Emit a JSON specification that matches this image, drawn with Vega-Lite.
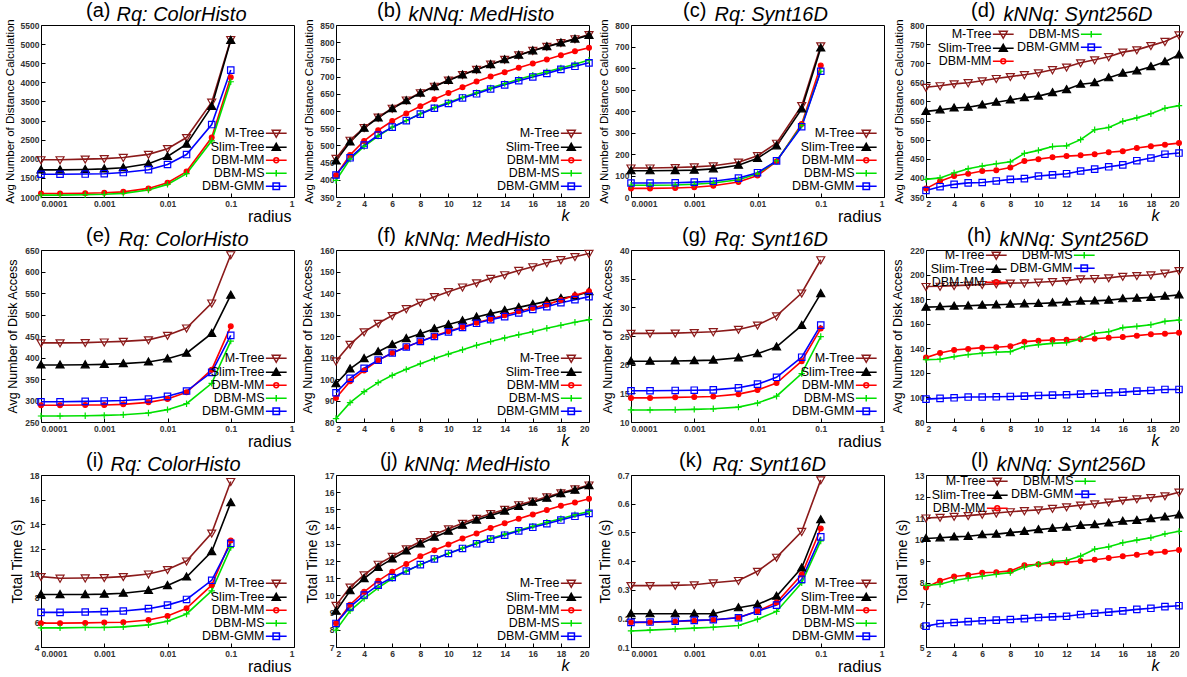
{
"$schema":"https://vega.github.io/schema/vega-lite/v6.json",
"padding":{"left":3,"top":0,"right":3,"bottom":3},
"config":{
 "view":{"stroke":"#000000","strokeWidth":1},
 "font":"Liberation Sans",
 "axis":{"grid":false,"domain":false,"labelFont":"Liberation Sans","labelFontSize":8.5,"labelFontWeight":"bold","labelColor":"#333333","tickColor":"#000000","tickSize":-4,"labelPadding":6,"titleFont":"Liberation Sans","titleFontWeight":"normal","titleColor":"#000000"},
 "legend":{"labelFont":"Liberation Sans","labelFontSize":12.5,"labelColor":"#000000","labelAlign":"right","labelOffset":-18,"symbolSize":64,"symbolStrokeWidth":1.5,"symbolOpacity":1,"rowPadding":-1,"padding":0,"offset":4},
 "title":{"font":"Liberation Sans","fontSize":20,"fontWeight":"normal","anchor":"start","frame":"group","baseline":"alphabetic","offset":-17,"color":"#000000"}
},
"datasets":{
"a":[
{"x":0.0001,"s":"M-Tree","v":1975},{"x":0.0002,"s":"M-Tree","v":1975},{"x":0.0005,"s":"M-Tree","v":1990},{"x":0.001,"s":"M-Tree","v":2005},{"x":0.002,"s":"M-Tree","v":2035},{"x":0.005,"s":"M-Tree","v":2115},{"x":0.01,"s":"M-Tree","v":2265},{"x":0.02,"s":"M-Tree","v":2555},{"x":0.05,"s":"M-Tree","v":3480},{"x":0.1,"s":"M-Tree","v":5120},
{"x":0.0001,"s":"Slim-Tree","v":1710},{"x":0.0002,"s":"Slim-Tree","v":1710},{"x":0.0005,"s":"Slim-Tree","v":1720},{"x":0.001,"s":"Slim-Tree","v":1735},{"x":0.002,"s":"Slim-Tree","v":1765},{"x":0.005,"s":"Slim-Tree","v":1870},{"x":0.01,"s":"Slim-Tree","v":2060},{"x":0.02,"s":"Slim-Tree","v":2380},{"x":0.05,"s":"Slim-Tree","v":3370},{"x":0.1,"s":"Slim-Tree","v":5100},
{"x":0.0001,"s":"DBM-MM","v":1090},{"x":0.0002,"s":"DBM-MM","v":1090},{"x":0.0005,"s":"DBM-MM","v":1100},{"x":0.001,"s":"DBM-MM","v":1110},{"x":0.002,"s":"DBM-MM","v":1135},{"x":0.005,"s":"DBM-MM","v":1225},{"x":0.01,"s":"DBM-MM","v":1375},{"x":0.02,"s":"DBM-MM","v":1665},{"x":0.05,"s":"DBM-MM","v":2555},{"x":0.1,"s":"DBM-MM","v":4130},
{"x":0.0001,"s":"DBM-MS","v":1050},{"x":0.0002,"s":"DBM-MS","v":1050},{"x":0.0005,"s":"DBM-MS","v":1060},{"x":0.001,"s":"DBM-MS","v":1070},{"x":0.002,"s":"DBM-MS","v":1095},{"x":0.005,"s":"DBM-MS","v":1185},{"x":0.01,"s":"DBM-MS","v":1330},{"x":0.02,"s":"DBM-MS","v":1610},{"x":0.05,"s":"DBM-MS","v":2470},{"x":0.1,"s":"DBM-MS","v":4015},
{"x":0.0001,"s":"DBM-GMM","v":1595},{"x":0.0002,"s":"DBM-GMM","v":1595},{"x":0.0005,"s":"DBM-GMM","v":1600},{"x":0.001,"s":"DBM-GMM","v":1610},{"x":0.002,"s":"DBM-GMM","v":1640},{"x":0.005,"s":"DBM-GMM","v":1715},{"x":0.01,"s":"DBM-GMM","v":1850},{"x":0.02,"s":"DBM-GMM","v":2110},{"x":0.05,"s":"DBM-GMM","v":2895},{"x":0.1,"s":"DBM-GMM","v":4320}
],
"b":[
{"x":2,"s":"M-Tree","v":462},{"x":3,"s":"M-Tree","v":515},{"x":4,"s":"M-Tree","v":552},{"x":5,"s":"M-Tree","v":582},{"x":6,"s":"M-Tree","v":608},{"x":7,"s":"M-Tree","v":632},{"x":8,"s":"M-Tree","v":653},{"x":9,"s":"M-Tree","v":672},{"x":10,"s":"M-Tree","v":690},{"x":11,"s":"M-Tree","v":706},{"x":12,"s":"M-Tree","v":721},{"x":13,"s":"M-Tree","v":736},{"x":14,"s":"M-Tree","v":750},{"x":15,"s":"M-Tree","v":763},{"x":16,"s":"M-Tree","v":776},{"x":17,"s":"M-Tree","v":788},{"x":18,"s":"M-Tree","v":799},{"x":19,"s":"M-Tree","v":810},{"x":20,"s":"M-Tree","v":822},
{"x":2,"s":"Slim-Tree","v":455},{"x":3,"s":"Slim-Tree","v":510},{"x":4,"s":"Slim-Tree","v":550},{"x":5,"s":"Slim-Tree","v":580},{"x":6,"s":"Slim-Tree","v":607},{"x":7,"s":"Slim-Tree","v":630},{"x":8,"s":"Slim-Tree","v":652},{"x":9,"s":"Slim-Tree","v":671},{"x":10,"s":"Slim-Tree","v":689},{"x":11,"s":"Slim-Tree","v":705},{"x":12,"s":"Slim-Tree","v":720},{"x":13,"s":"Slim-Tree","v":735},{"x":14,"s":"Slim-Tree","v":749},{"x":15,"s":"Slim-Tree","v":762},{"x":16,"s":"Slim-Tree","v":775},{"x":17,"s":"Slim-Tree","v":787},{"x":18,"s":"Slim-Tree","v":798},{"x":19,"s":"Slim-Tree","v":809},{"x":20,"s":"Slim-Tree","v":820},
{"x":2,"s":"DBM-MM","v":413},{"x":3,"s":"DBM-MM","v":472},{"x":4,"s":"DBM-MM","v":513},{"x":5,"s":"DBM-MM","v":544},{"x":6,"s":"DBM-MM","v":571},{"x":7,"s":"DBM-MM","v":593},{"x":8,"s":"DBM-MM","v":614},{"x":9,"s":"DBM-MM","v":634},{"x":10,"s":"DBM-MM","v":652},{"x":11,"s":"DBM-MM","v":669},{"x":12,"s":"DBM-MM","v":686},{"x":13,"s":"DBM-MM","v":700},{"x":14,"s":"DBM-MM","v":713},{"x":15,"s":"DBM-MM","v":726},{"x":16,"s":"DBM-MM","v":738},{"x":17,"s":"DBM-MM","v":750},{"x":18,"s":"DBM-MM","v":762},{"x":19,"s":"DBM-MM","v":774},{"x":20,"s":"DBM-MM","v":784},
{"x":2,"s":"DBM-MS","v":398},{"x":3,"s":"DBM-MS","v":460},{"x":4,"s":"DBM-MS","v":497},{"x":5,"s":"DBM-MS","v":527},{"x":6,"s":"DBM-MS","v":553},{"x":7,"s":"DBM-MS","v":572},{"x":8,"s":"DBM-MS","v":592},{"x":9,"s":"DBM-MS","v":610},{"x":10,"s":"DBM-MS","v":625},{"x":11,"s":"DBM-MS","v":640},{"x":12,"s":"DBM-MS","v":653},{"x":13,"s":"DBM-MS","v":667},{"x":14,"s":"DBM-MS","v":680},{"x":15,"s":"DBM-MS","v":692},{"x":16,"s":"DBM-MS","v":704},{"x":17,"s":"DBM-MS","v":714},{"x":18,"s":"DBM-MS","v":725},{"x":19,"s":"DBM-MS","v":736},{"x":20,"s":"DBM-MS","v":748},
{"x":2,"s":"DBM-GMM","v":414},{"x":3,"s":"DBM-GMM","v":464},{"x":4,"s":"DBM-GMM","v":501},{"x":5,"s":"DBM-GMM","v":530},{"x":6,"s":"DBM-GMM","v":553},{"x":7,"s":"DBM-GMM","v":572},{"x":8,"s":"DBM-GMM","v":591},{"x":9,"s":"DBM-GMM","v":608},{"x":10,"s":"DBM-GMM","v":622},{"x":11,"s":"DBM-GMM","v":638},{"x":12,"s":"DBM-GMM","v":650},{"x":13,"s":"DBM-GMM","v":664},{"x":14,"s":"DBM-GMM","v":676},{"x":15,"s":"DBM-GMM","v":688},{"x":16,"s":"DBM-GMM","v":699},{"x":17,"s":"DBM-GMM","v":709},{"x":18,"s":"DBM-GMM","v":721},{"x":19,"s":"DBM-GMM","v":730},{"x":20,"s":"DBM-GMM","v":740}
],
"c":[
{"x":0.0001,"s":"M-Tree","v":135},{"x":0.0002,"s":"M-Tree","v":135},{"x":0.0005,"s":"M-Tree","v":137},{"x":0.001,"s":"M-Tree","v":140},{"x":0.002,"s":"M-Tree","v":145},{"x":0.005,"s":"M-Tree","v":162},{"x":0.01,"s":"M-Tree","v":192},{"x":0.02,"s":"M-Tree","v":250},{"x":0.05,"s":"M-Tree","v":425},{"x":0.1,"s":"M-Tree","v":703},
{"x":0.0001,"s":"Slim-Tree","v":122},{"x":0.0002,"s":"Slim-Tree","v":122},{"x":0.0005,"s":"Slim-Tree","v":123},{"x":0.001,"s":"Slim-Tree","v":125},{"x":0.002,"s":"Slim-Tree","v":131},{"x":0.005,"s":"Slim-Tree","v":148},{"x":0.01,"s":"Slim-Tree","v":180},{"x":0.02,"s":"Slim-Tree","v":238},{"x":0.05,"s":"Slim-Tree","v":410},{"x":0.1,"s":"Slim-Tree","v":693},
{"x":0.0001,"s":"DBM-MM","v":40},{"x":0.0002,"s":"DBM-MM","v":40},{"x":0.0005,"s":"DBM-MM","v":42},{"x":0.001,"s":"DBM-MM","v":45},{"x":0.002,"s":"DBM-MM","v":52},{"x":0.005,"s":"DBM-MM","v":70},{"x":0.01,"s":"DBM-MM","v":100},{"x":0.02,"s":"DBM-MM","v":165},{"x":0.05,"s":"DBM-MM","v":340},{"x":0.1,"s":"DBM-MM","v":612},
{"x":0.0001,"s":"DBM-MS","v":55},{"x":0.0002,"s":"DBM-MS","v":55},{"x":0.0005,"s":"DBM-MS","v":56},{"x":0.001,"s":"DBM-MS","v":59},{"x":0.002,"s":"DBM-MS","v":65},{"x":0.005,"s":"DBM-MS","v":80},{"x":0.01,"s":"DBM-MS","v":108},{"x":0.02,"s":"DBM-MS","v":168},{"x":0.05,"s":"DBM-MS","v":333},{"x":0.1,"s":"DBM-MS","v":585},
{"x":0.0001,"s":"DBM-GMM","v":65},{"x":0.0002,"s":"DBM-GMM","v":65},{"x":0.0005,"s":"DBM-GMM","v":66},{"x":0.001,"s":"DBM-GMM","v":69},{"x":0.002,"s":"DBM-GMM","v":73},{"x":0.005,"s":"DBM-GMM","v":88},{"x":0.01,"s":"DBM-GMM","v":113},{"x":0.02,"s":"DBM-GMM","v":168},{"x":0.05,"s":"DBM-GMM","v":327},{"x":0.1,"s":"DBM-GMM","v":585}
],
"d":[
{"x":2,"s":"M-Tree","v":637},{"x":3,"s":"M-Tree","v":641},{"x":4,"s":"M-Tree","v":646},{"x":5,"s":"M-Tree","v":649},{"x":6,"s":"M-Tree","v":654},{"x":7,"s":"M-Tree","v":660},{"x":8,"s":"M-Tree","v":665},{"x":9,"s":"M-Tree","v":670},{"x":10,"s":"M-Tree","v":675},{"x":11,"s":"M-Tree","v":683},{"x":12,"s":"M-Tree","v":690},{"x":13,"s":"M-Tree","v":701},{"x":14,"s":"M-Tree","v":709},{"x":15,"s":"M-Tree","v":717},{"x":16,"s":"M-Tree","v":729},{"x":17,"s":"M-Tree","v":735},{"x":18,"s":"M-Tree","v":746},{"x":19,"s":"M-Tree","v":757},{"x":20,"s":"M-Tree","v":774},
{"x":2,"s":"Slim-Tree","v":574},{"x":3,"s":"Slim-Tree","v":578},{"x":4,"s":"Slim-Tree","v":583},{"x":5,"s":"Slim-Tree","v":585},{"x":6,"s":"Slim-Tree","v":591},{"x":7,"s":"Slim-Tree","v":598},{"x":8,"s":"Slim-Tree","v":604},{"x":9,"s":"Slim-Tree","v":610},{"x":10,"s":"Slim-Tree","v":614},{"x":11,"s":"Slim-Tree","v":623},{"x":12,"s":"Slim-Tree","v":631},{"x":13,"s":"Slim-Tree","v":645},{"x":14,"s":"Slim-Tree","v":649},{"x":15,"s":"Slim-Tree","v":662},{"x":16,"s":"Slim-Tree","v":674},{"x":17,"s":"Slim-Tree","v":680},{"x":18,"s":"Slim-Tree","v":691},{"x":19,"s":"Slim-Tree","v":704},{"x":20,"s":"Slim-Tree","v":722},
{"x":2,"s":"DBM-MM","v":372},{"x":3,"s":"DBM-MM","v":391},{"x":4,"s":"DBM-MM","v":405},{"x":5,"s":"DBM-MM","v":411},{"x":6,"s":"DBM-MM","v":418},{"x":7,"s":"DBM-MM","v":420},{"x":8,"s":"DBM-MM","v":427},{"x":9,"s":"DBM-MM","v":444},{"x":10,"s":"DBM-MM","v":449},{"x":11,"s":"DBM-MM","v":454},{"x":12,"s":"DBM-MM","v":457},{"x":13,"s":"DBM-MM","v":459},{"x":14,"s":"DBM-MM","v":462},{"x":15,"s":"DBM-MM","v":467},{"x":16,"s":"DBM-MM","v":470},{"x":17,"s":"DBM-MM","v":478},{"x":18,"s":"DBM-MM","v":483},{"x":19,"s":"DBM-MM","v":487},{"x":20,"s":"DBM-MM","v":491},
{"x":2,"s":"DBM-MS","v":396},{"x":3,"s":"DBM-MS","v":400},{"x":4,"s":"DBM-MS","v":413},{"x":5,"s":"DBM-MS","v":424},{"x":6,"s":"DBM-MS","v":431},{"x":7,"s":"DBM-MS","v":437},{"x":8,"s":"DBM-MS","v":442},{"x":9,"s":"DBM-MS","v":464},{"x":10,"s":"DBM-MS","v":472},{"x":11,"s":"DBM-MS","v":482},{"x":12,"s":"DBM-MS","v":484},{"x":13,"s":"DBM-MS","v":500},{"x":14,"s":"DBM-MS","v":526},{"x":15,"s":"DBM-MS","v":532},{"x":16,"s":"DBM-MS","v":548},{"x":17,"s":"DBM-MS","v":557},{"x":18,"s":"DBM-MS","v":568},{"x":19,"s":"DBM-MS","v":582},{"x":20,"s":"DBM-MS","v":589},
{"x":2,"s":"DBM-GMM","v":367},{"x":3,"s":"DBM-GMM","v":377},{"x":4,"s":"DBM-GMM","v":383},{"x":5,"s":"DBM-GMM","v":387},{"x":6,"s":"DBM-GMM","v":388},{"x":7,"s":"DBM-GMM","v":392},{"x":8,"s":"DBM-GMM","v":396},{"x":9,"s":"DBM-GMM","v":398},{"x":10,"s":"DBM-GMM","v":405},{"x":11,"s":"DBM-GMM","v":408},{"x":12,"s":"DBM-GMM","v":411},{"x":13,"s":"DBM-GMM","v":418},{"x":14,"s":"DBM-GMM","v":423},{"x":15,"s":"DBM-GMM","v":429},{"x":16,"s":"DBM-GMM","v":434},{"x":17,"s":"DBM-GMM","v":445},{"x":18,"s":"DBM-GMM","v":452},{"x":19,"s":"DBM-GMM","v":462},{"x":20,"s":"DBM-GMM","v":465}
],
"e":[
{"x":0.0001,"s":"M-Tree","v":434},{"x":0.0002,"s":"M-Tree","v":434},{"x":0.0005,"s":"M-Tree","v":434.5},{"x":0.001,"s":"M-Tree","v":436},{"x":0.002,"s":"M-Tree","v":437.6},{"x":0.005,"s":"M-Tree","v":441},{"x":0.01,"s":"M-Tree","v":451.5},{"x":0.02,"s":"M-Tree","v":468.6},{"x":0.05,"s":"M-Tree","v":526.7},{"x":0.1,"s":"M-Tree","v":639},
{"x":0.0001,"s":"Slim-Tree","v":382.6},{"x":0.0002,"s":"Slim-Tree","v":382.6},{"x":0.0005,"s":"Slim-Tree","v":383},{"x":0.001,"s":"Slim-Tree","v":384},{"x":0.002,"s":"Slim-Tree","v":385.7},{"x":0.005,"s":"Slim-Tree","v":389.5},{"x":0.01,"s":"Slim-Tree","v":397},{"x":0.02,"s":"Slim-Tree","v":410},{"x":0.05,"s":"Slim-Tree","v":456},{"x":0.1,"s":"Slim-Tree","v":545},
{"x":0.0001,"s":"DBM-MM","v":288.8},{"x":0.0002,"s":"DBM-MM","v":288.8},{"x":0.0005,"s":"DBM-MM","v":289.5},{"x":0.001,"s":"DBM-MM","v":289.5},{"x":0.002,"s":"DBM-MM","v":291},{"x":0.005,"s":"DBM-MM","v":295.7},{"x":0.01,"s":"DBM-MM","v":303.5},{"x":0.02,"s":"DBM-MM","v":319},{"x":0.05,"s":"DBM-MM","v":371.7},{"x":0.1,"s":"DBM-MM","v":472.5},
{"x":0.0001,"s":"DBM-MS","v":264},{"x":0.0002,"s":"DBM-MS","v":264},{"x":0.0005,"s":"DBM-MS","v":264.7},{"x":0.001,"s":"DBM-MS","v":265.5},{"x":0.002,"s":"DBM-MS","v":267},{"x":0.005,"s":"DBM-MS","v":271},{"x":0.01,"s":"DBM-MS","v":278.7},{"x":0.02,"s":"DBM-MS","v":292.6},{"x":0.05,"s":"DBM-MS","v":340},{"x":0.1,"s":"DBM-MS","v":438},
{"x":0.0001,"s":"DBM-GMM","v":297},{"x":0.0002,"s":"DBM-GMM","v":297},{"x":0.0005,"s":"DBM-GMM","v":298},{"x":0.001,"s":"DBM-GMM","v":299},{"x":0.002,"s":"DBM-GMM","v":300},{"x":0.005,"s":"DBM-GMM","v":303.5},{"x":0.01,"s":"DBM-GMM","v":309.7},{"x":0.02,"s":"DBM-GMM","v":322},{"x":0.05,"s":"DBM-GMM","v":365.5},{"x":0.1,"s":"DBM-GMM","v":451.5}
],
"f":[
{"x":2,"s":"M-Tree","v":108.4},{"x":3,"s":"M-Tree","v":116.1},{"x":4,"s":"M-Tree","v":121.9},{"x":5,"s":"M-Tree","v":125.9},{"x":6,"s":"M-Tree","v":129.5},{"x":7,"s":"M-Tree","v":132.7},{"x":8,"s":"M-Tree","v":135.7},{"x":9,"s":"M-Tree","v":138.3},{"x":10,"s":"M-Tree","v":140.6},{"x":11,"s":"M-Tree","v":142.8},{"x":12,"s":"M-Tree","v":144.7},{"x":13,"s":"M-Tree","v":146.8},{"x":14,"s":"M-Tree","v":148.5},{"x":15,"s":"M-Tree","v":150.5},{"x":16,"s":"M-Tree","v":152.2},{"x":17,"s":"M-Tree","v":154.1},{"x":18,"s":"M-Tree","v":155.5},{"x":19,"s":"M-Tree","v":156.9},{"x":20,"s":"M-Tree","v":158.4},
{"x":2,"s":"Slim-Tree","v":97.8},{"x":3,"s":"Slim-Tree","v":104.7},{"x":4,"s":"Slim-Tree","v":109.5},{"x":5,"s":"Slim-Tree","v":112.7},{"x":6,"s":"Slim-Tree","v":116},{"x":7,"s":"Slim-Tree","v":118.8},{"x":8,"s":"Slim-Tree","v":121.1},{"x":9,"s":"Slim-Tree","v":123.4},{"x":10,"s":"Slim-Tree","v":125.3},{"x":11,"s":"Slim-Tree","v":127.1},{"x":12,"s":"Slim-Tree","v":128.8},{"x":13,"s":"Slim-Tree","v":130.4},{"x":14,"s":"Slim-Tree","v":131.9},{"x":15,"s":"Slim-Tree","v":133.3},{"x":16,"s":"Slim-Tree","v":134.7},{"x":17,"s":"Slim-Tree","v":136.1},{"x":18,"s":"Slim-Tree","v":137.5},{"x":19,"s":"Slim-Tree","v":138.6},{"x":20,"s":"Slim-Tree","v":140.6},
{"x":2,"s":"DBM-MM","v":91.2},{"x":3,"s":"DBM-MM","v":98.9},{"x":4,"s":"DBM-MM","v":104},{"x":5,"s":"DBM-MM","v":108.7},{"x":6,"s":"DBM-MM","v":112.1},{"x":7,"s":"DBM-MM","v":114.9},{"x":8,"s":"DBM-MM","v":117.5},{"x":9,"s":"DBM-MM","v":120},{"x":10,"s":"DBM-MM","v":122.2},{"x":11,"s":"DBM-MM","v":124.2},{"x":12,"s":"DBM-MM","v":126.2},{"x":13,"s":"DBM-MM","v":127.9},{"x":14,"s":"DBM-MM","v":129.6},{"x":15,"s":"DBM-MM","v":131.5},{"x":16,"s":"DBM-MM","v":133},{"x":17,"s":"DBM-MM","v":134.6},{"x":18,"s":"DBM-MM","v":136.7},{"x":19,"s":"DBM-MM","v":139},{"x":20,"s":"DBM-MM","v":140.8},
{"x":2,"s":"DBM-MS","v":81.6},{"x":3,"s":"DBM-MS","v":89},{"x":4,"s":"DBM-MS","v":94.1},{"x":5,"s":"DBM-MS","v":98.3},{"x":6,"s":"DBM-MS","v":101.7},{"x":7,"s":"DBM-MS","v":104.5},{"x":8,"s":"DBM-MS","v":107.1},{"x":9,"s":"DBM-MS","v":109.5},{"x":10,"s":"DBM-MS","v":111.6},{"x":11,"s":"DBM-MS","v":113.6},{"x":12,"s":"DBM-MS","v":115.7},{"x":13,"s":"DBM-MS","v":117.4},{"x":14,"s":"DBM-MS","v":119.1},{"x":15,"s":"DBM-MS","v":120.6},{"x":16,"s":"DBM-MS","v":122},{"x":17,"s":"DBM-MS","v":123.6},{"x":18,"s":"DBM-MS","v":125},{"x":19,"s":"DBM-MS","v":126.4},{"x":20,"s":"DBM-MS","v":127.6},
{"x":2,"s":"DBM-GMM","v":93.6},{"x":3,"s":"DBM-GMM","v":100.3},{"x":4,"s":"DBM-GMM","v":105},{"x":5,"s":"DBM-GMM","v":108.8},{"x":6,"s":"DBM-GMM","v":112.1},{"x":7,"s":"DBM-GMM","v":114.9},{"x":8,"s":"DBM-GMM","v":117.5},{"x":9,"s":"DBM-GMM","v":119.8},{"x":10,"s":"DBM-GMM","v":121.9},{"x":11,"s":"DBM-GMM","v":124},{"x":12,"s":"DBM-GMM","v":125.9},{"x":13,"s":"DBM-GMM","v":127.6},{"x":14,"s":"DBM-GMM","v":129},{"x":15,"s":"DBM-GMM","v":130.7},{"x":16,"s":"DBM-GMM","v":132.4},{"x":17,"s":"DBM-GMM","v":133.6},{"x":18,"s":"DBM-GMM","v":135.5},{"x":19,"s":"DBM-GMM","v":136.9},{"x":20,"s":"DBM-GMM","v":138.3}
],
"g":[
{"x":0.0001,"s":"M-Tree","v":25.46},{"x":0.0002,"s":"M-Tree","v":25.46},{"x":0.0005,"s":"M-Tree","v":25.5},{"x":0.001,"s":"M-Tree","v":25.6},{"x":0.002,"s":"M-Tree","v":25.75},{"x":0.005,"s":"M-Tree","v":26.15},{"x":0.01,"s":"M-Tree","v":26.9},{"x":0.02,"s":"M-Tree","v":28.5},{"x":0.05,"s":"M-Tree","v":32.5},{"x":0.1,"s":"M-Tree","v":38.3},
{"x":0.0001,"s":"Slim-Tree","v":20.6},{"x":0.0002,"s":"Slim-Tree","v":20.6},{"x":0.0005,"s":"Slim-Tree","v":20.65},{"x":0.001,"s":"Slim-Tree","v":20.7},{"x":0.002,"s":"Slim-Tree","v":20.8},{"x":0.005,"s":"Slim-Tree","v":21.2},{"x":0.01,"s":"Slim-Tree","v":21.9},{"x":0.02,"s":"Slim-Tree","v":23.1},{"x":0.05,"s":"Slim-Tree","v":26.85},{"x":0.1,"s":"Slim-Tree","v":32.4},
{"x":0.0001,"s":"DBM-MM","v":14.2},{"x":0.0002,"s":"DBM-MM","v":14.2},{"x":0.0005,"s":"DBM-MM","v":14.3},{"x":0.001,"s":"DBM-MM","v":14.35},{"x":0.002,"s":"DBM-MM","v":14.46},{"x":0.005,"s":"DBM-MM","v":14.86},{"x":0.01,"s":"DBM-MM","v":15.56},{"x":0.02,"s":"DBM-MM","v":16.8},{"x":0.05,"s":"DBM-MM","v":20.6},{"x":0.1,"s":"DBM-MM","v":26.3},
{"x":0.0001,"s":"DBM-MS","v":12.1},{"x":0.0002,"s":"DBM-MS","v":12.1},{"x":0.0005,"s":"DBM-MS","v":12.14},{"x":0.001,"s":"DBM-MS","v":12.2},{"x":0.002,"s":"DBM-MS","v":12.3},{"x":0.005,"s":"DBM-MS","v":12.6},{"x":0.01,"s":"DBM-MS","v":13.3},{"x":0.02,"s":"DBM-MS","v":14.5},{"x":0.05,"s":"DBM-MS","v":18.45},{"x":0.1,"s":"DBM-MS","v":24.9},
{"x":0.0001,"s":"DBM-GMM","v":15.45},{"x":0.0002,"s":"DBM-GMM","v":15.45},{"x":0.0005,"s":"DBM-GMM","v":15.5},{"x":0.001,"s":"DBM-GMM","v":15.55},{"x":0.002,"s":"DBM-GMM","v":15.6},{"x":0.005,"s":"DBM-GMM","v":15.96},{"x":0.01,"s":"DBM-GMM","v":16.6},{"x":0.02,"s":"DBM-GMM","v":17.8},{"x":0.05,"s":"DBM-GMM","v":21.3},{"x":0.1,"s":"DBM-GMM","v":26.9}
],
"h":[
{"x":2,"s":"M-Tree","v":190.3},{"x":3,"s":"M-Tree","v":190.5},{"x":4,"s":"M-Tree","v":191},{"x":5,"s":"M-Tree","v":191.4},{"x":6,"s":"M-Tree","v":191.9},{"x":7,"s":"M-Tree","v":192.4},{"x":8,"s":"M-Tree","v":193},{"x":9,"s":"M-Tree","v":193.2},{"x":10,"s":"M-Tree","v":193.8},{"x":11,"s":"M-Tree","v":194.3},{"x":12,"s":"M-Tree","v":195.1},{"x":13,"s":"M-Tree","v":196.5},{"x":14,"s":"M-Tree","v":196.8},{"x":15,"s":"M-Tree","v":197.3},{"x":16,"s":"M-Tree","v":198.6},{"x":17,"s":"M-Tree","v":199.2},{"x":18,"s":"M-Tree","v":199.7},{"x":19,"s":"M-Tree","v":201.1},{"x":20,"s":"M-Tree","v":203.2},
{"x":2,"s":"Slim-Tree","v":173.5},{"x":3,"s":"Slim-Tree","v":173.8},{"x":4,"s":"Slim-Tree","v":174.3},{"x":5,"s":"Slim-Tree","v":174.6},{"x":6,"s":"Slim-Tree","v":175.1},{"x":7,"s":"Slim-Tree","v":175.4},{"x":8,"s":"Slim-Tree","v":175.9},{"x":9,"s":"Slim-Tree","v":176.2},{"x":10,"s":"Slim-Tree","v":176.5},{"x":11,"s":"Slim-Tree","v":177},{"x":12,"s":"Slim-Tree","v":177.6},{"x":13,"s":"Slim-Tree","v":178.4},{"x":14,"s":"Slim-Tree","v":178.6},{"x":15,"s":"Slim-Tree","v":179.2},{"x":16,"s":"Slim-Tree","v":180.3},{"x":17,"s":"Slim-Tree","v":180.8},{"x":18,"s":"Slim-Tree","v":181.4},{"x":19,"s":"Slim-Tree","v":182.4},{"x":20,"s":"Slim-Tree","v":183.5},
{"x":2,"s":"DBM-MM","v":132.4},{"x":3,"s":"DBM-MM","v":136.2},{"x":4,"s":"DBM-MM","v":138.6},{"x":5,"s":"DBM-MM","v":139.5},{"x":6,"s":"DBM-MM","v":140.5},{"x":7,"s":"DBM-MM","v":140.8},{"x":8,"s":"DBM-MM","v":141.6},{"x":9,"s":"DBM-MM","v":145.4},{"x":10,"s":"DBM-MM","v":146.2},{"x":11,"s":"DBM-MM","v":146.8},{"x":12,"s":"DBM-MM","v":147},{"x":13,"s":"DBM-MM","v":147.3},{"x":14,"s":"DBM-MM","v":147.8},{"x":15,"s":"DBM-MM","v":148.6},{"x":16,"s":"DBM-MM","v":149.2},{"x":17,"s":"DBM-MM","v":150.3},{"x":18,"s":"DBM-MM","v":151.4},{"x":19,"s":"DBM-MM","v":151.9},{"x":20,"s":"DBM-MM","v":152.7},
{"x":2,"s":"DBM-MS","v":130.8},{"x":3,"s":"DBM-MS","v":131.1},{"x":4,"s":"DBM-MS","v":133.2},{"x":5,"s":"DBM-MS","v":134.9},{"x":6,"s":"DBM-MS","v":136},{"x":7,"s":"DBM-MS","v":136.8},{"x":8,"s":"DBM-MS","v":137.3},{"x":9,"s":"DBM-MS","v":141.4},{"x":10,"s":"DBM-MS","v":143},{"x":11,"s":"DBM-MS","v":144},{"x":12,"s":"DBM-MS","v":144.6},{"x":13,"s":"DBM-MS","v":147.6},{"x":14,"s":"DBM-MS","v":152.2},{"x":15,"s":"DBM-MS","v":153.5},{"x":16,"s":"DBM-MS","v":156.8},{"x":17,"s":"DBM-MS","v":157.8},{"x":18,"s":"DBM-MS","v":159.2},{"x":19,"s":"DBM-MS","v":161.9},{"x":20,"s":"DBM-MS","v":163},
{"x":2,"s":"DBM-GMM","v":98.6},{"x":3,"s":"DBM-GMM","v":99.2},{"x":4,"s":"DBM-GMM","v":99.7},{"x":5,"s":"DBM-GMM","v":100.3},{"x":6,"s":"DBM-GMM","v":100.3},{"x":7,"s":"DBM-GMM","v":100.5},{"x":8,"s":"DBM-GMM","v":100.8},{"x":9,"s":"DBM-GMM","v":101.1},{"x":10,"s":"DBM-GMM","v":101.6},{"x":11,"s":"DBM-GMM","v":101.9},{"x":12,"s":"DBM-GMM","v":102.2},{"x":13,"s":"DBM-GMM","v":102.7},{"x":14,"s":"DBM-GMM","v":103.2},{"x":15,"s":"DBM-GMM","v":103.8},{"x":16,"s":"DBM-GMM","v":104.3},{"x":17,"s":"DBM-GMM","v":105.1},{"x":18,"s":"DBM-GMM","v":105.7},{"x":19,"s":"DBM-GMM","v":106.5},{"x":20,"s":"DBM-GMM","v":106.5}
],
"i":[
{"x":0.0001,"s":"M-Tree","v":9.73},{"x":0.0002,"s":"M-Tree","v":9.6},{"x":0.0005,"s":"M-Tree","v":9.62},{"x":0.001,"s":"M-Tree","v":9.65},{"x":0.002,"s":"M-Tree","v":9.73},{"x":0.005,"s":"M-Tree","v":9.94},{"x":0.01,"s":"M-Tree","v":10.3},{"x":0.02,"s":"M-Tree","v":11},{"x":0.05,"s":"M-Tree","v":13.27},{"x":0.1,"s":"M-Tree","v":17.47},
{"x":0.0001,"s":"Slim-Tree","v":8.27},{"x":0.0002,"s":"Slim-Tree","v":8.27},{"x":0.0005,"s":"Slim-Tree","v":8.27},{"x":0.001,"s":"Slim-Tree","v":8.3},{"x":0.002,"s":"Slim-Tree","v":8.38},{"x":0.005,"s":"Slim-Tree","v":8.6},{"x":0.01,"s":"Slim-Tree","v":9},{"x":0.02,"s":"Slim-Tree","v":9.7},{"x":0.05,"s":"Slim-Tree","v":11.77},{"x":0.1,"s":"Slim-Tree","v":15.75},
{"x":0.0001,"s":"DBM-MM","v":5.94},{"x":0.0002,"s":"DBM-MM","v":5.94},{"x":0.0005,"s":"DBM-MM","v":5.96},{"x":0.001,"s":"DBM-MM","v":5.99},{"x":0.002,"s":"DBM-MM","v":6.02},{"x":0.005,"s":"DBM-MM","v":6.2},{"x":0.01,"s":"DBM-MM","v":6.53},{"x":0.02,"s":"DBM-MM","v":7.15},{"x":0.05,"s":"DBM-MM","v":9.03},{"x":0.1,"s":"DBM-MM","v":12.66},
{"x":0.0001,"s":"DBM-MS","v":5.56},{"x":0.0002,"s":"DBM-MS","v":5.56},{"x":0.0005,"s":"DBM-MS","v":5.59},{"x":0.001,"s":"DBM-MS","v":5.59},{"x":0.002,"s":"DBM-MS","v":5.64},{"x":0.005,"s":"DBM-MS","v":5.8},{"x":0.01,"s":"DBM-MS","v":6.1},{"x":0.02,"s":"DBM-MS","v":6.69},{"x":0.05,"s":"DBM-MS","v":8.57},{"x":0.1,"s":"DBM-MS","v":12.09},
{"x":0.0001,"s":"DBM-GMM","v":6.82},{"x":0.0002,"s":"DBM-GMM","v":6.82},{"x":0.0005,"s":"DBM-GMM","v":6.85},{"x":0.001,"s":"DBM-GMM","v":6.88},{"x":0.002,"s":"DBM-GMM","v":6.93},{"x":0.005,"s":"DBM-GMM","v":7.12},{"x":0.01,"s":"DBM-GMM","v":7.41},{"x":0.02,"s":"DBM-GMM","v":7.87},{"x":0.05,"s":"DBM-GMM","v":9.43},{"x":0.1,"s":"DBM-GMM","v":12.44}
],
"j":[
{"x":2,"s":"M-Tree","v":9.42},{"x":3,"s":"M-Tree","v":10.48},{"x":4,"s":"M-Tree","v":11.19},{"x":5,"s":"M-Tree","v":11.81},{"x":6,"s":"M-Tree","v":12.27},{"x":7,"s":"M-Tree","v":12.71},{"x":8,"s":"M-Tree","v":13.13},{"x":9,"s":"M-Tree","v":13.54},{"x":10,"s":"M-Tree","v":13.87},{"x":11,"s":"M-Tree","v":14.19},{"x":12,"s":"M-Tree","v":14.48},{"x":13,"s":"M-Tree","v":14.75},{"x":14,"s":"M-Tree","v":15},{"x":15,"s":"M-Tree","v":15.27},{"x":16,"s":"M-Tree","v":15.48},{"x":17,"s":"M-Tree","v":15.73},{"x":18,"s":"M-Tree","v":15.96},{"x":19,"s":"M-Tree","v":16.19},{"x":20,"s":"M-Tree","v":16.42},
{"x":2,"s":"Slim-Tree","v":9.08},{"x":3,"s":"Slim-Tree","v":10.27},{"x":4,"s":"Slim-Tree","v":10.98},{"x":5,"s":"Slim-Tree","v":11.63},{"x":6,"s":"Slim-Tree","v":12.12},{"x":7,"s":"Slim-Tree","v":12.58},{"x":8,"s":"Slim-Tree","v":13},{"x":9,"s":"Slim-Tree","v":13.38},{"x":10,"s":"Slim-Tree","v":13.73},{"x":11,"s":"Slim-Tree","v":14.08},{"x":12,"s":"Slim-Tree","v":14.38},{"x":13,"s":"Slim-Tree","v":14.65},{"x":14,"s":"Slim-Tree","v":14.9},{"x":15,"s":"Slim-Tree","v":15.17},{"x":16,"s":"Slim-Tree","v":15.42},{"x":17,"s":"Slim-Tree","v":15.65},{"x":18,"s":"Slim-Tree","v":15.92},{"x":19,"s":"Slim-Tree","v":16.12},{"x":20,"s":"Slim-Tree","v":16.38},
{"x":2,"s":"DBM-MM","v":8.38},{"x":3,"s":"DBM-MM","v":9.46},{"x":4,"s":"DBM-MM","v":10.21},{"x":5,"s":"DBM-MM","v":10.85},{"x":6,"s":"DBM-MM","v":11.38},{"x":7,"s":"DBM-MM","v":11.83},{"x":8,"s":"DBM-MM","v":12.27},{"x":9,"s":"DBM-MM","v":12.63},{"x":10,"s":"DBM-MM","v":12.96},{"x":11,"s":"DBM-MM","v":13.31},{"x":12,"s":"DBM-MM","v":13.6},{"x":13,"s":"DBM-MM","v":13.92},{"x":14,"s":"DBM-MM","v":14.19},{"x":15,"s":"DBM-MM","v":14.46},{"x":16,"s":"DBM-MM","v":14.71},{"x":17,"s":"DBM-MM","v":14.96},{"x":18,"s":"DBM-MM","v":15.21},{"x":19,"s":"DBM-MM","v":15.4},{"x":20,"s":"DBM-MM","v":15.62},
{"x":2,"s":"DBM-MS","v":7.98},{"x":3,"s":"DBM-MS","v":9.1},{"x":4,"s":"DBM-MS","v":9.81},{"x":5,"s":"DBM-MS","v":10.44},{"x":6,"s":"DBM-MS","v":10.98},{"x":7,"s":"DBM-MS","v":11.4},{"x":8,"s":"DBM-MS","v":11.79},{"x":9,"s":"DBM-MS","v":12.13},{"x":10,"s":"DBM-MS","v":12.44},{"x":11,"s":"DBM-MS","v":12.75},{"x":12,"s":"DBM-MS","v":13.04},{"x":13,"s":"DBM-MS","v":13.31},{"x":14,"s":"DBM-MS","v":13.56},{"x":15,"s":"DBM-MS","v":13.79},{"x":16,"s":"DBM-MS","v":14.02},{"x":17,"s":"DBM-MS","v":14.25},{"x":18,"s":"DBM-MS","v":14.46},{"x":19,"s":"DBM-MS","v":14.69},{"x":20,"s":"DBM-MS","v":14.88},
{"x":2,"s":"DBM-GMM","v":8.37},{"x":3,"s":"DBM-GMM","v":9.33},{"x":4,"s":"DBM-GMM","v":10.02},{"x":5,"s":"DBM-GMM","v":10.6},{"x":6,"s":"DBM-GMM","v":11.04},{"x":7,"s":"DBM-GMM","v":11.42},{"x":8,"s":"DBM-GMM","v":11.79},{"x":9,"s":"DBM-GMM","v":12.12},{"x":10,"s":"DBM-GMM","v":12.44},{"x":11,"s":"DBM-GMM","v":12.73},{"x":12,"s":"DBM-GMM","v":13},{"x":13,"s":"DBM-GMM","v":13.27},{"x":14,"s":"DBM-GMM","v":13.5},{"x":15,"s":"DBM-GMM","v":13.75},{"x":16,"s":"DBM-GMM","v":13.96},{"x":17,"s":"DBM-GMM","v":14.17},{"x":18,"s":"DBM-GMM","v":14.38},{"x":19,"s":"DBM-GMM","v":14.6},{"x":20,"s":"DBM-GMM","v":14.77}
],
"k":[
{"x":0.0001,"s":"M-Tree","v":0.314},{"x":0.0002,"s":"M-Tree","v":0.314},{"x":0.0005,"s":"M-Tree","v":0.315},{"x":0.001,"s":"M-Tree","v":0.317},{"x":0.002,"s":"M-Tree","v":0.324},{"x":0.005,"s":"M-Tree","v":0.332},{"x":0.01,"s":"M-Tree","v":0.364},{"x":0.02,"s":"M-Tree","v":0.413},{"x":0.05,"s":"M-Tree","v":0.503},{"x":0.1,"s":"M-Tree","v":0.683},
{"x":0.0001,"s":"Slim-Tree","v":0.216},{"x":0.0002,"s":"Slim-Tree","v":0.216},{"x":0.0005,"s":"Slim-Tree","v":0.216},{"x":0.001,"s":"Slim-Tree","v":0.216},{"x":0.002,"s":"Slim-Tree","v":0.216},{"x":0.005,"s":"Slim-Tree","v":0.237},{"x":0.01,"s":"Slim-Tree","v":0.248},{"x":0.02,"s":"Slim-Tree","v":0.277},{"x":0.05,"s":"Slim-Tree","v":0.376},{"x":0.1,"s":"Slim-Tree","v":0.544},
{"x":0.0001,"s":"DBM-MM","v":0.186},{"x":0.0002,"s":"DBM-MM","v":0.186},{"x":0.0005,"s":"DBM-MM","v":0.189},{"x":0.001,"s":"DBM-MM","v":0.192},{"x":0.002,"s":"DBM-MM","v":0.194},{"x":0.005,"s":"DBM-MM","v":0.203},{"x":0.01,"s":"DBM-MM","v":0.225},{"x":0.02,"s":"DBM-MM","v":0.255},{"x":0.05,"s":"DBM-MM","v":0.353},{"x":0.1,"s":"DBM-MM","v":0.513},
{"x":0.0001,"s":"DBM-MS","v":0.156},{"x":0.0002,"s":"DBM-MS","v":0.159},{"x":0.0005,"s":"DBM-MS","v":0.163},{"x":0.001,"s":"DBM-MS","v":0.166},{"x":0.002,"s":"DBM-MS","v":0.169},{"x":0.005,"s":"DBM-MS","v":0.175},{"x":0.01,"s":"DBM-MS","v":0.197},{"x":0.02,"s":"DBM-MS","v":0.224},{"x":0.05,"s":"DBM-MS","v":0.324},{"x":0.1,"s":"DBM-MS","v":0.47},
{"x":0.0001,"s":"DBM-GMM","v":0.186},{"x":0.0002,"s":"DBM-GMM","v":0.187},{"x":0.0005,"s":"DBM-GMM","v":0.19},{"x":0.001,"s":"DBM-GMM","v":0.193},{"x":0.002,"s":"DBM-GMM","v":0.195},{"x":0.005,"s":"DBM-GMM","v":0.202},{"x":0.01,"s":"DBM-GMM","v":0.225},{"x":0.02,"s":"DBM-GMM","v":0.246},{"x":0.05,"s":"DBM-GMM","v":0.336},{"x":0.1,"s":"DBM-GMM","v":0.484}
],
"l":[
{"x":2,"s":"M-Tree","v":11},{"x":3,"s":"M-Tree","v":11.03},{"x":4,"s":"M-Tree","v":11.08},{"x":5,"s":"M-Tree","v":11.11},{"x":6,"s":"M-Tree","v":11.17},{"x":7,"s":"M-Tree","v":11.23},{"x":8,"s":"M-Tree","v":11.29},{"x":9,"s":"M-Tree","v":11.34},{"x":10,"s":"M-Tree","v":11.38},{"x":11,"s":"M-Tree","v":11.45},{"x":12,"s":"M-Tree","v":11.52},{"x":13,"s":"M-Tree","v":11.6},{"x":14,"s":"M-Tree","v":11.66},{"x":15,"s":"M-Tree","v":11.74},{"x":16,"s":"M-Tree","v":11.82},{"x":17,"s":"M-Tree","v":11.89},{"x":18,"s":"M-Tree","v":11.95},{"x":19,"s":"M-Tree","v":12.03},{"x":20,"s":"M-Tree","v":12.2},
{"x":2,"s":"Slim-Tree","v":10.05},{"x":3,"s":"Slim-Tree","v":10.08},{"x":4,"s":"Slim-Tree","v":10.12},{"x":5,"s":"Slim-Tree","v":10.15},{"x":6,"s":"Slim-Tree","v":10.22},{"x":7,"s":"Slim-Tree","v":10.25},{"x":8,"s":"Slim-Tree","v":10.32},{"x":9,"s":"Slim-Tree","v":10.38},{"x":10,"s":"Slim-Tree","v":10.46},{"x":11,"s":"Slim-Tree","v":10.52},{"x":12,"s":"Slim-Tree","v":10.57},{"x":13,"s":"Slim-Tree","v":10.66},{"x":14,"s":"Slim-Tree","v":10.69},{"x":15,"s":"Slim-Tree","v":10.77},{"x":16,"s":"Slim-Tree","v":10.85},{"x":17,"s":"Slim-Tree","v":10.89},{"x":18,"s":"Slim-Tree","v":10.97},{"x":19,"s":"Slim-Tree","v":11.05},{"x":20,"s":"Slim-Tree","v":11.15},
{"x":2,"s":"DBM-MM","v":7.77},{"x":3,"s":"DBM-MM","v":8.08},{"x":4,"s":"DBM-MM","v":8.28},{"x":5,"s":"DBM-MM","v":8.35},{"x":6,"s":"DBM-MM","v":8.45},{"x":7,"s":"DBM-MM","v":8.48},{"x":8,"s":"DBM-MM","v":8.54},{"x":9,"s":"DBM-MM","v":8.8},{"x":10,"s":"DBM-MM","v":8.85},{"x":11,"s":"DBM-MM","v":8.91},{"x":12,"s":"DBM-MM","v":8.94},{"x":13,"s":"DBM-MM","v":9},{"x":14,"s":"DBM-MM","v":9.06},{"x":15,"s":"DBM-MM","v":9.14},{"x":16,"s":"DBM-MM","v":9.22},{"x":17,"s":"DBM-MM","v":9.29},{"x":18,"s":"DBM-MM","v":9.38},{"x":19,"s":"DBM-MM","v":9.43},{"x":20,"s":"DBM-MM","v":9.51},
{"x":2,"s":"DBM-MS","v":7.86},{"x":3,"s":"DBM-MS","v":7.92},{"x":4,"s":"DBM-MS","v":8.09},{"x":5,"s":"DBM-MS","v":8.2},{"x":6,"s":"DBM-MS","v":8.29},{"x":7,"s":"DBM-MS","v":8.38},{"x":8,"s":"DBM-MS","v":8.46},{"x":9,"s":"DBM-MS","v":8.72},{"x":10,"s":"DBM-MS","v":8.85},{"x":11,"s":"DBM-MS","v":8.97},{"x":12,"s":"DBM-MS","v":9.02},{"x":13,"s":"DBM-MS","v":9.23},{"x":14,"s":"DBM-MS","v":9.55},{"x":15,"s":"DBM-MS","v":9.66},{"x":16,"s":"DBM-MS","v":9.85},{"x":17,"s":"DBM-MS","v":9.97},{"x":18,"s":"DBM-MS","v":10.08},{"x":19,"s":"DBM-MS","v":10.26},{"x":20,"s":"DBM-MS","v":10.38},
{"x":2,"s":"DBM-GMM","v":5.97},{"x":3,"s":"DBM-GMM","v":6.09},{"x":4,"s":"DBM-GMM","v":6.14},{"x":5,"s":"DBM-GMM","v":6.18},{"x":6,"s":"DBM-GMM","v":6.22},{"x":7,"s":"DBM-GMM","v":6.25},{"x":8,"s":"DBM-GMM","v":6.28},{"x":9,"s":"DBM-GMM","v":6.32},{"x":10,"s":"DBM-GMM","v":6.37},{"x":11,"s":"DBM-GMM","v":6.4},{"x":12,"s":"DBM-GMM","v":6.43},{"x":13,"s":"DBM-GMM","v":6.51},{"x":14,"s":"DBM-GMM","v":6.57},{"x":15,"s":"DBM-GMM","v":6.62},{"x":16,"s":"DBM-GMM","v":6.68},{"x":17,"s":"DBM-GMM","v":6.75},{"x":18,"s":"DBM-GMM","v":6.8},{"x":19,"s":"DBM-GMM","v":6.88},{"x":20,"s":"DBM-GMM","v":6.92}
]
},
"columns":4,
"spacing":{"row":53,"column":42},
"bounds":"flush",
"concat":[
{"data":{"name":"a"},"width":253,"height":172,"title":{"text":"(a)","dx":45},
 "encoding":{
  "x":{"field":"x","type":"quantitative","scale":{"type":"log","domain":[0.0001,1]},"axis":{"values":[0.0001,0.001,0.01,0.1,1],"format":"~r","title":"radius","titleFontSize":16,"titleAlign":"right","titleX":250,"titleY":24,"titleBaseline":"alphabetic"}},
  "y":{"field":"v","type":"quantitative","scale":{"domain":[1000,5500],"nice":false,"zero":false},"axis":{"values":[1000,1500,2000,2500,3000,3500,4000,4500,5000,5500],"format":"~r","title":"Avg Number of Distance Calculation","titleFontSize":11.5,"titlePadding":5}}},
 "layer":[
  {"mark":{"type":"line","strokeWidth":1.6},"encoding":{"stroke":{"field":"s","type":"nominal","scale":{"domain":["M-Tree","Slim-Tree","DBM-MM","DBM-MS","DBM-GMM"],"range":["#8b1a1a","#000000","#ff0000","#00e000","#0000ff"]},"legend":null}}},
  {"mark":{"type":"point","opacity":1,"size":64,"strokeWidth":1.2},"encoding":{
   "x":{"field":"x","type":"quantitative","scale":{"type":"log","domain":[0.0001,1]},"axis":{"orient":"top","labels":false,"ticks":false,"title":"Rq: ColorHisto","titleFontStyle":"italic","titleFontSize":20,"titleAlign":"left","titleX":75,"titleY":-5,"titleBaseline":"alphabetic"}},
   "stroke":{"field":"s","type":"nominal","scale":{"domain":["M-Tree","Slim-Tree","DBM-MM","DBM-MS","DBM-GMM"],"range":["#8b1a1a","#000000","#ff0000","#00e000","#0000ff"]},"legend":null},
   "fill":{"field":"s","type":"nominal","scale":{"domain":["M-Tree","Slim-Tree","DBM-MM","DBM-MS","DBM-GMM"],"range":["transparent","#000000","#ff0000","transparent","transparent"]},"legend":null},
   "shape":{"field":"s","type":"nominal","scale":{"domain":["M-Tree","Slim-Tree","DBM-MM","DBM-MS","DBM-GMM"],"range":["M-1,-0.75L1,-0.75L0,1Z","M0,-1L1,0.75L-1,0.75Z","M0.6,0A0.6,0.6,0,1,1,-0.6,0A0.6,0.6,0,1,1,0.6,0","M-0.8,0H0.8M0,-0.8V0.8","M-0.8,-0.8H0.8V0.8H-0.8Z"]},"legend":null}}},
  {"mark":{"type":"point","opacity":0,"size":64},"encoding":{
   "x":{"field":"x","type":"quantitative","scale":{"type":"log","domain":[0.0001,1]},"axis":null},
   "color":{"field":"s","type":"nominal","scale":{"domain":["M-Tree","Slim-Tree","DBM-MM","DBM-MS","DBM-GMM"],"range":["#8b1a1a","#000000","#ff0000","#00e000","#0000ff"]},"legend":{"title":null,"orient":"bottom-right"}},
   "shape":{"field":"s","type":"nominal","scale":{"domain":["M-Tree","Slim-Tree","DBM-MM","DBM-MS","DBM-GMM"],"range":["M-2.6,0H2.6M-1,-0.75L1,-0.75L0,1Z","M-2.6,0H2.6M0,-1L1,0.75L-1,0.75ZM0,-0.45L0.6,0.5L-0.6,0.5ZM0,0.05L0.25,0.45L-0.25,0.45Z","M-2.6,0H2.6M0.6,0A0.6,0.6,0,1,1,-0.6,0A0.6,0.6,0,1,1,0.6,0","M-2.6,0H2.6M0,-0.8V0.8","M-2.6,0H2.6M-0.8,-0.8H0.8V0.8H-0.8Z"]},"legend":{"title":null,"orient":"bottom-right"}}}}
 ],
 "resolve":{"axis":{"x":"independent"},"scale":{"shape":"independent","color":"independent"}}
},
{"data":{"name":"b"},"width":253,"height":172,"title":{"text":"(b)","dx":41},
 "encoding":{
  "x":{"field":"x","type":"quantitative","scale":{"domain":[2,20],"nice":false,"zero":false},"axis":{"values":[2,4,6,8,10,12,14,16,18,20],"format":"~r","title":"k","titleFontStyle":"italic","titleFontSize":16,"titleAlign":"right","titleX":233,"titleY":23,"titleBaseline":"alphabetic"}},
  "y":{"field":"v","type":"quantitative","scale":{"domain":[350,850],"nice":false,"zero":false},"axis":{"values":[350,400,450,500,550,600,650,700,750,800,850],"format":"~r","title":"Avg Number of Distance Calculation","titleFontSize":11.5,"titlePadding":5}}},
 "layer":[
  {"mark":{"type":"line","strokeWidth":1.6},"encoding":{"stroke":{"field":"s","type":"nominal","scale":{"domain":["M-Tree","Slim-Tree","DBM-MM","DBM-MS","DBM-GMM"],"range":["#8b1a1a","#000000","#ff0000","#00e000","#0000ff"]},"legend":null}}},
  {"mark":{"type":"point","opacity":1,"size":64,"strokeWidth":1.2},"encoding":{
   "x":{"field":"x","type":"quantitative","scale":{"domain":[2,20],"nice":false,"zero":false},"axis":{"orient":"top","labels":false,"ticks":false,"title":"kNNq: MedHisto","titleFontStyle":"italic","titleFontSize":20,"titleAlign":"left","titleX":72,"titleY":-5,"titleBaseline":"alphabetic"}},
   "stroke":{"field":"s","type":"nominal","scale":{"domain":["M-Tree","Slim-Tree","DBM-MM","DBM-MS","DBM-GMM"],"range":["#8b1a1a","#000000","#ff0000","#00e000","#0000ff"]},"legend":null},
   "fill":{"field":"s","type":"nominal","scale":{"domain":["M-Tree","Slim-Tree","DBM-MM","DBM-MS","DBM-GMM"],"range":["transparent","#000000","#ff0000","transparent","transparent"]},"legend":null},
   "shape":{"field":"s","type":"nominal","scale":{"domain":["M-Tree","Slim-Tree","DBM-MM","DBM-MS","DBM-GMM"],"range":["M-1,-0.75L1,-0.75L0,1Z","M0,-1L1,0.75L-1,0.75Z","M0.6,0A0.6,0.6,0,1,1,-0.6,0A0.6,0.6,0,1,1,0.6,0","M-0.8,0H0.8M0,-0.8V0.8","M-0.8,-0.8H0.8V0.8H-0.8Z"]},"legend":null}}},
  {"mark":{"type":"point","opacity":0,"size":64},"encoding":{
   "x":{"field":"x","type":"quantitative","scale":{"domain":[2,20],"nice":false,"zero":false},"axis":null},
   "color":{"field":"s","type":"nominal","scale":{"domain":["M-Tree","Slim-Tree","DBM-MM","DBM-MS","DBM-GMM"],"range":["#8b1a1a","#000000","#ff0000","#00e000","#0000ff"]},"legend":{"title":null,"orient":"bottom-right"}},
   "shape":{"field":"s","type":"nominal","scale":{"domain":["M-Tree","Slim-Tree","DBM-MM","DBM-MS","DBM-GMM"],"range":["M-2.6,0H2.6M-1,-0.75L1,-0.75L0,1Z","M-2.6,0H2.6M0,-1L1,0.75L-1,0.75ZM0,-0.45L0.6,0.5L-0.6,0.5ZM0,0.05L0.25,0.45L-0.25,0.45Z","M-2.6,0H2.6M0.6,0A0.6,0.6,0,1,1,-0.6,0A0.6,0.6,0,1,1,0.6,0","M-2.6,0H2.6M0,-0.8V0.8","M-2.6,0H2.6M-0.8,-0.8H0.8V0.8H-0.8Z"]},"legend":{"title":null,"orient":"bottom-right"}}}}
 ],
 "resolve":{"axis":{"x":"independent"},"scale":{"shape":"independent","color":"independent"}}
},
{"data":{"name":"c"},"width":253,"height":172,"title":{"text":"(c)","dx":52},
 "encoding":{
  "x":{"field":"x","type":"quantitative","scale":{"type":"log","domain":[0.0001,1]},"axis":{"values":[0.0001,0.001,0.01,0.1,1],"format":"~r","title":"radius","titleFontSize":16,"titleAlign":"right","titleX":250,"titleY":24,"titleBaseline":"alphabetic"}},
  "y":{"field":"v","type":"quantitative","scale":{"domain":[0,800],"nice":false,"zero":false},"axis":{"values":[0,100,200,300,400,500,600,700,800],"format":"~r","title":"Avg Number of Distance Calculation","titleFontSize":11.5,"titlePadding":5}}},
 "layer":[
  {"mark":{"type":"line","strokeWidth":1.6},"encoding":{"stroke":{"field":"s","type":"nominal","scale":{"domain":["M-Tree","Slim-Tree","DBM-MM","DBM-MS","DBM-GMM"],"range":["#8b1a1a","#000000","#ff0000","#00e000","#0000ff"]},"legend":null}}},
  {"mark":{"type":"point","opacity":1,"size":64,"strokeWidth":1.2},"encoding":{
   "x":{"field":"x","type":"quantitative","scale":{"type":"log","domain":[0.0001,1]},"axis":{"orient":"top","labels":false,"ticks":false,"title":"Rq: Synt16D","titleFontStyle":"italic","titleFontSize":20,"titleAlign":"left","titleX":83,"titleY":-5,"titleBaseline":"alphabetic"}},
   "stroke":{"field":"s","type":"nominal","scale":{"domain":["M-Tree","Slim-Tree","DBM-MM","DBM-MS","DBM-GMM"],"range":["#8b1a1a","#000000","#ff0000","#00e000","#0000ff"]},"legend":null},
   "fill":{"field":"s","type":"nominal","scale":{"domain":["M-Tree","Slim-Tree","DBM-MM","DBM-MS","DBM-GMM"],"range":["transparent","#000000","#ff0000","transparent","transparent"]},"legend":null},
   "shape":{"field":"s","type":"nominal","scale":{"domain":["M-Tree","Slim-Tree","DBM-MM","DBM-MS","DBM-GMM"],"range":["M-1,-0.75L1,-0.75L0,1Z","M0,-1L1,0.75L-1,0.75Z","M0.6,0A0.6,0.6,0,1,1,-0.6,0A0.6,0.6,0,1,1,0.6,0","M-0.8,0H0.8M0,-0.8V0.8","M-0.8,-0.8H0.8V0.8H-0.8Z"]},"legend":null}}},
  {"mark":{"type":"point","opacity":0,"size":64},"encoding":{
   "x":{"field":"x","type":"quantitative","scale":{"type":"log","domain":[0.0001,1]},"axis":null},
   "color":{"field":"s","type":"nominal","scale":{"domain":["M-Tree","Slim-Tree","DBM-MM","DBM-MS","DBM-GMM"],"range":["#8b1a1a","#000000","#ff0000","#00e000","#0000ff"]},"legend":{"title":null,"orient":"bottom-right"}},
   "shape":{"field":"s","type":"nominal","scale":{"domain":["M-Tree","Slim-Tree","DBM-MM","DBM-MS","DBM-GMM"],"range":["M-2.6,0H2.6M-1,-0.75L1,-0.75L0,1Z","M-2.6,0H2.6M0,-1L1,0.75L-1,0.75ZM0,-0.45L0.6,0.5L-0.6,0.5ZM0,0.05L0.25,0.45L-0.25,0.45Z","M-2.6,0H2.6M0.6,0A0.6,0.6,0,1,1,-0.6,0A0.6,0.6,0,1,1,0.6,0","M-2.6,0H2.6M0,-0.8V0.8","M-2.6,0H2.6M-0.8,-0.8H0.8V0.8H-0.8Z"]},"legend":{"title":null,"orient":"bottom-right"}}}}
 ],
 "resolve":{"axis":{"x":"independent"},"scale":{"shape":"independent","color":"independent"}}
},
{"data":{"name":"d"},"width":253,"height":172,"title":{"text":"(d)","dx":45},
 "encoding":{
  "x":{"field":"x","type":"quantitative","scale":{"domain":[2,20],"nice":false,"zero":false},"axis":{"values":[2,4,6,8,10,12,14,16,18,20],"format":"~r","title":"k","titleFontStyle":"italic","titleFontSize":16,"titleAlign":"right","titleX":233,"titleY":23,"titleBaseline":"alphabetic"}},
  "y":{"field":"v","type":"quantitative","scale":{"domain":[350,800],"nice":false,"zero":false},"axis":{"values":[350,400,450,500,550,600,650,700,750,800],"format":"~r","title":"Avg Number of Distance Calculation","titleFontSize":11.5,"titlePadding":5}}},
 "layer":[
  {"mark":{"type":"line","strokeWidth":1.6},"encoding":{"stroke":{"field":"s","type":"nominal","scale":{"domain":["M-Tree","Slim-Tree","DBM-MM","DBM-MS","DBM-GMM"],"range":["#8b1a1a","#000000","#ff0000","#00e000","#0000ff"]},"legend":null}}},
  {"mark":{"type":"point","opacity":1,"size":64,"strokeWidth":1.2},"encoding":{
   "x":{"field":"x","type":"quantitative","scale":{"domain":[2,20],"nice":false,"zero":false},"axis":{"orient":"top","labels":false,"ticks":false,"title":"kNNq: Synt256D","titleFontStyle":"italic","titleFontSize":20,"titleAlign":"left","titleX":77,"titleY":-5,"titleBaseline":"alphabetic"}},
   "stroke":{"field":"s","type":"nominal","scale":{"domain":["M-Tree","Slim-Tree","DBM-MM","DBM-MS","DBM-GMM"],"range":["#8b1a1a","#000000","#ff0000","#00e000","#0000ff"]},"legend":null},
   "fill":{"field":"s","type":"nominal","scale":{"domain":["M-Tree","Slim-Tree","DBM-MM","DBM-MS","DBM-GMM"],"range":["transparent","#000000","#ff0000","transparent","transparent"]},"legend":null},
   "shape":{"field":"s","type":"nominal","scale":{"domain":["M-Tree","Slim-Tree","DBM-MM","DBM-MS","DBM-GMM"],"range":["M-1,-0.75L1,-0.75L0,1Z","M0,-1L1,0.75L-1,0.75Z","M0.6,0A0.6,0.6,0,1,1,-0.6,0A0.6,0.6,0,1,1,0.6,0","M-0.8,0H0.8M0,-0.8V0.8","M-0.8,-0.8H0.8V0.8H-0.8Z"]},"legend":null}}},
  {"transform":[{"filter":{"field":"s","oneOf":["M-Tree","Slim-Tree","DBM-MM"]}}],
   "mark":{"type":"point","opacity":0,"size":64},"encoding":{
   "x":{"field":"x","type":"quantitative","scale":{"domain":[2,20],"nice":false,"zero":false},"axis":null},
   "color":{"field":"s","type":"nominal","scale":{"domain":["M-Tree","Slim-Tree","DBM-MM"],"range":["#8b1a1a","#000000","#ff0000"]},"legend":{"title":null,"orient":"none","legendX":71,"legendY":3}},
   "shape":{"field":"s","type":"nominal","scale":{"domain":["M-Tree","Slim-Tree","DBM-MM"],"range":["M-2.6,0H2.6M-1,-0.75L1,-0.75L0,1Z","M-2.6,0H2.6M0,-1L1,0.75L-1,0.75ZM0,-0.45L0.6,0.5L-0.6,0.5ZM0,0.05L0.25,0.45L-0.25,0.45Z","M-2.6,0H2.6M0.6,0A0.6,0.6,0,1,1,-0.6,0A0.6,0.6,0,1,1,0.6,0"]},"legend":{"title":null,"orient":"none","legendX":71,"legendY":3}}}},
  {"transform":[{"filter":{"field":"s","oneOf":["DBM-MS","DBM-GMM"]}}],
   "mark":{"type":"point","opacity":0,"size":64},"encoding":{
   "x":{"field":"x","type":"quantitative","scale":{"domain":[2,20],"nice":false,"zero":false},"axis":null},
   "color":{"field":"s","type":"nominal","scale":{"domain":["DBM-MS","DBM-GMM"],"range":["#00e000","#0000ff"]},"legend":{"title":null,"orient":"none","legendX":159,"legendY":3}},
   "shape":{"field":"s","type":"nominal","scale":{"domain":["DBM-MS","DBM-GMM"],"range":["M-2.6,0H2.6M0,-0.8V0.8","M-2.6,0H2.6M-0.8,-0.8H0.8V0.8H-0.8Z"]},"legend":{"title":null,"orient":"none","legendX":159,"legendY":3}}}}
 ],
 "resolve":{"axis":{"x":"independent"},"scale":{"shape":"independent","color":"independent"}}
},
{"data":{"name":"e"},"width":253,"height":172,"title":{"text":"(e)","dx":45},
 "encoding":{
  "x":{"field":"x","type":"quantitative","scale":{"type":"log","domain":[0.0001,1]},"axis":{"values":[0.0001,0.001,0.01,0.1,1],"format":"~r","title":"radius","titleFontSize":16,"titleAlign":"right","titleX":250,"titleY":24,"titleBaseline":"alphabetic"}},
  "y":{"field":"v","type":"quantitative","scale":{"domain":[250,650],"nice":false,"zero":false},"axis":{"values":[250,300,350,400,450,500,550,600,650],"format":"~r","title":"Avg Number of Disk Access","titleFontSize":12.5,"titlePadding":5}}},
 "layer":[
  {"mark":{"type":"line","strokeWidth":1.6},"encoding":{"stroke":{"field":"s","type":"nominal","scale":{"domain":["M-Tree","Slim-Tree","DBM-MM","DBM-MS","DBM-GMM"],"range":["#8b1a1a","#000000","#ff0000","#00e000","#0000ff"]},"legend":null}}},
  {"mark":{"type":"point","opacity":1,"size":64,"strokeWidth":1.2},"encoding":{
   "x":{"field":"x","type":"quantitative","scale":{"type":"log","domain":[0.0001,1]},"axis":{"orient":"top","labels":false,"ticks":false,"title":"Rq: ColorHisto","titleFontStyle":"italic","titleFontSize":20,"titleAlign":"left","titleX":77,"titleY":-5,"titleBaseline":"alphabetic"}},
   "stroke":{"field":"s","type":"nominal","scale":{"domain":["M-Tree","Slim-Tree","DBM-MM","DBM-MS","DBM-GMM"],"range":["#8b1a1a","#000000","#ff0000","#00e000","#0000ff"]},"legend":null},
   "fill":{"field":"s","type":"nominal","scale":{"domain":["M-Tree","Slim-Tree","DBM-MM","DBM-MS","DBM-GMM"],"range":["transparent","#000000","#ff0000","transparent","transparent"]},"legend":null},
   "shape":{"field":"s","type":"nominal","scale":{"domain":["M-Tree","Slim-Tree","DBM-MM","DBM-MS","DBM-GMM"],"range":["M-1,-0.75L1,-0.75L0,1Z","M0,-1L1,0.75L-1,0.75Z","M0.6,0A0.6,0.6,0,1,1,-0.6,0A0.6,0.6,0,1,1,0.6,0","M-0.8,0H0.8M0,-0.8V0.8","M-0.8,-0.8H0.8V0.8H-0.8Z"]},"legend":null}}},
  {"mark":{"type":"point","opacity":0,"size":64},"encoding":{
   "x":{"field":"x","type":"quantitative","scale":{"type":"log","domain":[0.0001,1]},"axis":null},
   "color":{"field":"s","type":"nominal","scale":{"domain":["M-Tree","Slim-Tree","DBM-MM","DBM-MS","DBM-GMM"],"range":["#8b1a1a","#000000","#ff0000","#00e000","#0000ff"]},"legend":{"title":null,"orient":"bottom-right"}},
   "shape":{"field":"s","type":"nominal","scale":{"domain":["M-Tree","Slim-Tree","DBM-MM","DBM-MS","DBM-GMM"],"range":["M-2.6,0H2.6M-1,-0.75L1,-0.75L0,1Z","M-2.6,0H2.6M0,-1L1,0.75L-1,0.75ZM0,-0.45L0.6,0.5L-0.6,0.5ZM0,0.05L0.25,0.45L-0.25,0.45Z","M-2.6,0H2.6M0.6,0A0.6,0.6,0,1,1,-0.6,0A0.6,0.6,0,1,1,0.6,0","M-2.6,0H2.6M0,-0.8V0.8","M-2.6,0H2.6M-0.8,-0.8H0.8V0.8H-0.8Z"]},"legend":{"title":null,"orient":"bottom-right"}}}}
 ],
 "resolve":{"axis":{"x":"independent"},"scale":{"shape":"independent","color":"independent"}}
},
{"data":{"name":"f"},"width":253,"height":172,"title":{"text":"(f)","dx":41},
 "encoding":{
  "x":{"field":"x","type":"quantitative","scale":{"domain":[2,20],"nice":false,"zero":false},"axis":{"values":[2,4,6,8,10,12,14,16,18,20],"format":"~r","title":"k","titleFontStyle":"italic","titleFontSize":16,"titleAlign":"right","titleX":233,"titleY":23,"titleBaseline":"alphabetic"}},
  "y":{"field":"v","type":"quantitative","scale":{"domain":[80,160],"nice":false,"zero":false},"axis":{"values":[80,90,100,110,120,130,140,150,160],"format":"~r","title":"Avg Number of Disk Access","titleFontSize":12.5,"titlePadding":5}}},
 "layer":[
  {"mark":{"type":"line","strokeWidth":1.6},"encoding":{"stroke":{"field":"s","type":"nominal","scale":{"domain":["M-Tree","Slim-Tree","DBM-MM","DBM-MS","DBM-GMM"],"range":["#8b1a1a","#000000","#ff0000","#00e000","#0000ff"]},"legend":null}}},
  {"mark":{"type":"point","opacity":1,"size":64,"strokeWidth":1.2},"encoding":{
   "x":{"field":"x","type":"quantitative","scale":{"domain":[2,20],"nice":false,"zero":false},"axis":{"orient":"top","labels":false,"ticks":false,"title":"kNNq: MedHisto","titleFontStyle":"italic","titleFontSize":20,"titleAlign":"left","titleX":68,"titleY":-5,"titleBaseline":"alphabetic"}},
   "stroke":{"field":"s","type":"nominal","scale":{"domain":["M-Tree","Slim-Tree","DBM-MM","DBM-MS","DBM-GMM"],"range":["#8b1a1a","#000000","#ff0000","#00e000","#0000ff"]},"legend":null},
   "fill":{"field":"s","type":"nominal","scale":{"domain":["M-Tree","Slim-Tree","DBM-MM","DBM-MS","DBM-GMM"],"range":["transparent","#000000","#ff0000","transparent","transparent"]},"legend":null},
   "shape":{"field":"s","type":"nominal","scale":{"domain":["M-Tree","Slim-Tree","DBM-MM","DBM-MS","DBM-GMM"],"range":["M-1,-0.75L1,-0.75L0,1Z","M0,-1L1,0.75L-1,0.75Z","M0.6,0A0.6,0.6,0,1,1,-0.6,0A0.6,0.6,0,1,1,0.6,0","M-0.8,0H0.8M0,-0.8V0.8","M-0.8,-0.8H0.8V0.8H-0.8Z"]},"legend":null}}},
  {"mark":{"type":"point","opacity":0,"size":64},"encoding":{
   "x":{"field":"x","type":"quantitative","scale":{"domain":[2,20],"nice":false,"zero":false},"axis":null},
   "color":{"field":"s","type":"nominal","scale":{"domain":["M-Tree","Slim-Tree","DBM-MM","DBM-MS","DBM-GMM"],"range":["#8b1a1a","#000000","#ff0000","#00e000","#0000ff"]},"legend":{"title":null,"orient":"bottom-right"}},
   "shape":{"field":"s","type":"nominal","scale":{"domain":["M-Tree","Slim-Tree","DBM-MM","DBM-MS","DBM-GMM"],"range":["M-2.6,0H2.6M-1,-0.75L1,-0.75L0,1Z","M-2.6,0H2.6M0,-1L1,0.75L-1,0.75ZM0,-0.45L0.6,0.5L-0.6,0.5ZM0,0.05L0.25,0.45L-0.25,0.45Z","M-2.6,0H2.6M0.6,0A0.6,0.6,0,1,1,-0.6,0A0.6,0.6,0,1,1,0.6,0","M-2.6,0H2.6M0,-0.8V0.8","M-2.6,0H2.6M-0.8,-0.8H0.8V0.8H-0.8Z"]},"legend":{"title":null,"orient":"bottom-right"}}}}
 ],
 "resolve":{"axis":{"x":"independent"},"scale":{"shape":"independent","color":"independent"}}
},
{"data":{"name":"g"},"width":253,"height":172,"title":{"text":"(g)","dx":51},
 "encoding":{
  "x":{"field":"x","type":"quantitative","scale":{"type":"log","domain":[0.0001,1]},"axis":{"values":[0.0001,0.001,0.01,0.1,1],"format":"~r","title":"radius","titleFontSize":16,"titleAlign":"right","titleX":250,"titleY":24,"titleBaseline":"alphabetic"}},
  "y":{"field":"v","type":"quantitative","scale":{"domain":[10,40],"nice":false,"zero":false},"axis":{"values":[10,15,20,25,30,35,40],"format":"~r","title":"Avg Number of Disk Access","titleFontSize":12.5,"titlePadding":5}}},
 "layer":[
  {"mark":{"type":"line","strokeWidth":1.6},"encoding":{"stroke":{"field":"s","type":"nominal","scale":{"domain":["M-Tree","Slim-Tree","DBM-MM","DBM-MS","DBM-GMM"],"range":["#8b1a1a","#000000","#ff0000","#00e000","#0000ff"]},"legend":null}}},
  {"mark":{"type":"point","opacity":1,"size":64,"strokeWidth":1.2},"encoding":{
   "x":{"field":"x","type":"quantitative","scale":{"type":"log","domain":[0.0001,1]},"axis":{"orient":"top","labels":false,"ticks":false,"title":"Rq: Synt16D","titleFontStyle":"italic","titleFontSize":20,"titleAlign":"left","titleX":83,"titleY":-5,"titleBaseline":"alphabetic"}},
   "stroke":{"field":"s","type":"nominal","scale":{"domain":["M-Tree","Slim-Tree","DBM-MM","DBM-MS","DBM-GMM"],"range":["#8b1a1a","#000000","#ff0000","#00e000","#0000ff"]},"legend":null},
   "fill":{"field":"s","type":"nominal","scale":{"domain":["M-Tree","Slim-Tree","DBM-MM","DBM-MS","DBM-GMM"],"range":["transparent","#000000","#ff0000","transparent","transparent"]},"legend":null},
   "shape":{"field":"s","type":"nominal","scale":{"domain":["M-Tree","Slim-Tree","DBM-MM","DBM-MS","DBM-GMM"],"range":["M-1,-0.75L1,-0.75L0,1Z","M0,-1L1,0.75L-1,0.75Z","M0.6,0A0.6,0.6,0,1,1,-0.6,0A0.6,0.6,0,1,1,0.6,0","M-0.8,0H0.8M0,-0.8V0.8","M-0.8,-0.8H0.8V0.8H-0.8Z"]},"legend":null}}},
  {"mark":{"type":"point","opacity":0,"size":64},"encoding":{
   "x":{"field":"x","type":"quantitative","scale":{"type":"log","domain":[0.0001,1]},"axis":null},
   "color":{"field":"s","type":"nominal","scale":{"domain":["M-Tree","Slim-Tree","DBM-MM","DBM-MS","DBM-GMM"],"range":["#8b1a1a","#000000","#ff0000","#00e000","#0000ff"]},"legend":{"title":null,"orient":"bottom-right"}},
   "shape":{"field":"s","type":"nominal","scale":{"domain":["M-Tree","Slim-Tree","DBM-MM","DBM-MS","DBM-GMM"],"range":["M-2.6,0H2.6M-1,-0.75L1,-0.75L0,1Z","M-2.6,0H2.6M0,-1L1,0.75L-1,0.75ZM0,-0.45L0.6,0.5L-0.6,0.5ZM0,0.05L0.25,0.45L-0.25,0.45Z","M-2.6,0H2.6M0.6,0A0.6,0.6,0,1,1,-0.6,0A0.6,0.6,0,1,1,0.6,0","M-2.6,0H2.6M0,-0.8V0.8","M-2.6,0H2.6M-0.8,-0.8H0.8V0.8H-0.8Z"]},"legend":{"title":null,"orient":"bottom-right"}}}}
 ],
 "resolve":{"axis":{"x":"independent"},"scale":{"shape":"independent","color":"independent"}}
},
{"data":{"name":"h"},"width":253,"height":172,"title":{"text":"(h)","dx":41},
 "encoding":{
  "x":{"field":"x","type":"quantitative","scale":{"domain":[2,20],"nice":false,"zero":false},"axis":{"values":[2,4,6,8,10,12,14,16,18,20],"format":"~r","title":"k","titleFontStyle":"italic","titleFontSize":16,"titleAlign":"right","titleX":233,"titleY":23,"titleBaseline":"alphabetic"}},
  "y":{"field":"v","type":"quantitative","scale":{"domain":[80,220],"nice":false,"zero":false},"axis":{"values":[80,100,120,140,160,180,200,220],"format":"~r","title":"Avg Number of Disk Access","titleFontSize":12.5,"titlePadding":5}}},
 "layer":[
  {"mark":{"type":"line","strokeWidth":1.6},"encoding":{"stroke":{"field":"s","type":"nominal","scale":{"domain":["M-Tree","Slim-Tree","DBM-MM","DBM-MS","DBM-GMM"],"range":["#8b1a1a","#000000","#ff0000","#00e000","#0000ff"]},"legend":null}}},
  {"mark":{"type":"point","opacity":1,"size":64,"strokeWidth":1.2},"encoding":{
   "x":{"field":"x","type":"quantitative","scale":{"domain":[2,20],"nice":false,"zero":false},"axis":{"orient":"top","labels":false,"ticks":false,"title":"kNNq: Synt256D","titleFontStyle":"italic","titleFontSize":20,"titleAlign":"left","titleX":73,"titleY":-5,"titleBaseline":"alphabetic"}},
   "stroke":{"field":"s","type":"nominal","scale":{"domain":["M-Tree","Slim-Tree","DBM-MM","DBM-MS","DBM-GMM"],"range":["#8b1a1a","#000000","#ff0000","#00e000","#0000ff"]},"legend":null},
   "fill":{"field":"s","type":"nominal","scale":{"domain":["M-Tree","Slim-Tree","DBM-MM","DBM-MS","DBM-GMM"],"range":["transparent","#000000","#ff0000","transparent","transparent"]},"legend":null},
   "shape":{"field":"s","type":"nominal","scale":{"domain":["M-Tree","Slim-Tree","DBM-MM","DBM-MS","DBM-GMM"],"range":["M-1,-0.75L1,-0.75L0,1Z","M0,-1L1,0.75L-1,0.75Z","M0.6,0A0.6,0.6,0,1,1,-0.6,0A0.6,0.6,0,1,1,0.6,0","M-0.8,0H0.8M0,-0.8V0.8","M-0.8,-0.8H0.8V0.8H-0.8Z"]},"legend":null}}},
  {"transform":[{"filter":{"field":"s","oneOf":["M-Tree","Slim-Tree","DBM-MM"]}}],
   "mark":{"type":"point","opacity":0,"size":64},"encoding":{
   "x":{"field":"x","type":"quantitative","scale":{"domain":[2,20],"nice":false,"zero":false},"axis":null},
   "color":{"field":"s","type":"nominal","scale":{"domain":["M-Tree","Slim-Tree","DBM-MM"],"range":["#8b1a1a","#000000","#ff0000"]},"legend":{"title":null,"orient":"none","legendX":64,"legendY":-1}},
   "shape":{"field":"s","type":"nominal","scale":{"domain":["M-Tree","Slim-Tree","DBM-MM"],"range":["M-2.6,0H2.6M-1,-0.75L1,-0.75L0,1Z","M-2.6,0H2.6M0,-1L1,0.75L-1,0.75ZM0,-0.45L0.6,0.5L-0.6,0.5ZM0,0.05L0.25,0.45L-0.25,0.45Z","M-2.6,0H2.6M0.6,0A0.6,0.6,0,1,1,-0.6,0A0.6,0.6,0,1,1,0.6,0"]},"legend":{"title":null,"orient":"none","legendX":64,"legendY":-1}}}},
  {"transform":[{"filter":{"field":"s","oneOf":["DBM-MS","DBM-GMM"]}}],
   "mark":{"type":"point","opacity":0,"size":64},"encoding":{
   "x":{"field":"x","type":"quantitative","scale":{"domain":[2,20],"nice":false,"zero":false},"axis":null},
   "color":{"field":"s","type":"nominal","scale":{"domain":["DBM-MS","DBM-GMM"],"range":["#00e000","#0000ff"]},"legend":{"title":null,"orient":"none","legendX":152,"legendY":-1}},
   "shape":{"field":"s","type":"nominal","scale":{"domain":["DBM-MS","DBM-GMM"],"range":["M-2.6,0H2.6M0,-0.8V0.8","M-2.6,0H2.6M-0.8,-0.8H0.8V0.8H-0.8Z"]},"legend":{"title":null,"orient":"none","legendX":152,"legendY":-1}}}}
 ],
 "resolve":{"axis":{"x":"independent"},"scale":{"shape":"independent","color":"independent"}}
},
{"data":{"name":"i"},"width":253,"height":172,"title":{"text":"(i)","dx":45},
 "encoding":{
  "x":{"field":"x","type":"quantitative","scale":{"type":"log","domain":[0.0001,1]},"axis":{"values":[0.0001,0.001,0.01,0.1,1],"format":"~r","title":"radius","titleFontSize":16,"titleAlign":"right","titleX":250,"titleY":24,"titleBaseline":"alphabetic"}},
  "y":{"field":"v","type":"quantitative","scale":{"domain":[4,18],"nice":false,"zero":false},"axis":{"values":[4,6,8,10,12,14,16,18],"format":"~r","title":"Total Time (s)","titleFontSize":14,"titlePadding":5}}},
 "layer":[
  {"mark":{"type":"line","strokeWidth":1.6},"encoding":{"stroke":{"field":"s","type":"nominal","scale":{"domain":["M-Tree","Slim-Tree","DBM-MM","DBM-MS","DBM-GMM"],"range":["#8b1a1a","#000000","#ff0000","#00e000","#0000ff"]},"legend":null}}},
  {"mark":{"type":"point","opacity":1,"size":64,"strokeWidth":1.2},"encoding":{
   "x":{"field":"x","type":"quantitative","scale":{"type":"log","domain":[0.0001,1]},"axis":{"orient":"top","labels":false,"ticks":false,"title":"Rq: ColorHisto","titleFontStyle":"italic","titleFontSize":20,"titleAlign":"left","titleX":69,"titleY":-5,"titleBaseline":"alphabetic"}},
   "stroke":{"field":"s","type":"nominal","scale":{"domain":["M-Tree","Slim-Tree","DBM-MM","DBM-MS","DBM-GMM"],"range":["#8b1a1a","#000000","#ff0000","#00e000","#0000ff"]},"legend":null},
   "fill":{"field":"s","type":"nominal","scale":{"domain":["M-Tree","Slim-Tree","DBM-MM","DBM-MS","DBM-GMM"],"range":["transparent","#000000","#ff0000","transparent","transparent"]},"legend":null},
   "shape":{"field":"s","type":"nominal","scale":{"domain":["M-Tree","Slim-Tree","DBM-MM","DBM-MS","DBM-GMM"],"range":["M-1,-0.75L1,-0.75L0,1Z","M0,-1L1,0.75L-1,0.75Z","M0.6,0A0.6,0.6,0,1,1,-0.6,0A0.6,0.6,0,1,1,0.6,0","M-0.8,0H0.8M0,-0.8V0.8","M-0.8,-0.8H0.8V0.8H-0.8Z"]},"legend":null}}},
  {"mark":{"type":"point","opacity":0,"size":64},"encoding":{
   "x":{"field":"x","type":"quantitative","scale":{"type":"log","domain":[0.0001,1]},"axis":null},
   "color":{"field":"s","type":"nominal","scale":{"domain":["M-Tree","Slim-Tree","DBM-MM","DBM-MS","DBM-GMM"],"range":["#8b1a1a","#000000","#ff0000","#00e000","#0000ff"]},"legend":{"title":null,"orient":"bottom-right"}},
   "shape":{"field":"s","type":"nominal","scale":{"domain":["M-Tree","Slim-Tree","DBM-MM","DBM-MS","DBM-GMM"],"range":["M-2.6,0H2.6M-1,-0.75L1,-0.75L0,1Z","M-2.6,0H2.6M0,-1L1,0.75L-1,0.75ZM0,-0.45L0.6,0.5L-0.6,0.5ZM0,0.05L0.25,0.45L-0.25,0.45Z","M-2.6,0H2.6M0.6,0A0.6,0.6,0,1,1,-0.6,0A0.6,0.6,0,1,1,0.6,0","M-2.6,0H2.6M0,-0.8V0.8","M-2.6,0H2.6M-0.8,-0.8H0.8V0.8H-0.8Z"]},"legend":{"title":null,"orient":"bottom-right"}}}}
 ],
 "resolve":{"axis":{"x":"independent"},"scale":{"shape":"independent","color":"independent"}}
},
{"data":{"name":"j"},"width":253,"height":172,"title":{"text":"(j)","dx":44},
 "encoding":{
  "x":{"field":"x","type":"quantitative","scale":{"domain":[2,20],"nice":false,"zero":false},"axis":{"values":[2,4,6,8,10,12,14,16,18,20],"format":"~r","title":"k","titleFontStyle":"italic","titleFontSize":16,"titleAlign":"right","titleX":233,"titleY":23,"titleBaseline":"alphabetic"}},
  "y":{"field":"v","type":"quantitative","scale":{"domain":[7,17],"nice":false,"zero":false},"axis":{"values":[7,8,9,10,11,12,13,14,15,16,17],"format":"~r","title":"Total Time (s)","titleFontSize":14,"titlePadding":5}}},
 "layer":[
  {"mark":{"type":"line","strokeWidth":1.6},"encoding":{"stroke":{"field":"s","type":"nominal","scale":{"domain":["M-Tree","Slim-Tree","DBM-MM","DBM-MS","DBM-GMM"],"range":["#8b1a1a","#000000","#ff0000","#00e000","#0000ff"]},"legend":null}}},
  {"mark":{"type":"point","opacity":1,"size":64,"strokeWidth":1.2},"encoding":{
   "x":{"field":"x","type":"quantitative","scale":{"domain":[2,20],"nice":false,"zero":false},"axis":{"orient":"top","labels":false,"ticks":false,"title":"kNNq: MedHisto","titleFontStyle":"italic","titleFontSize":20,"titleAlign":"left","titleX":68,"titleY":-5,"titleBaseline":"alphabetic"}},
   "stroke":{"field":"s","type":"nominal","scale":{"domain":["M-Tree","Slim-Tree","DBM-MM","DBM-MS","DBM-GMM"],"range":["#8b1a1a","#000000","#ff0000","#00e000","#0000ff"]},"legend":null},
   "fill":{"field":"s","type":"nominal","scale":{"domain":["M-Tree","Slim-Tree","DBM-MM","DBM-MS","DBM-GMM"],"range":["transparent","#000000","#ff0000","transparent","transparent"]},"legend":null},
   "shape":{"field":"s","type":"nominal","scale":{"domain":["M-Tree","Slim-Tree","DBM-MM","DBM-MS","DBM-GMM"],"range":["M-1,-0.75L1,-0.75L0,1Z","M0,-1L1,0.75L-1,0.75Z","M0.6,0A0.6,0.6,0,1,1,-0.6,0A0.6,0.6,0,1,1,0.6,0","M-0.8,0H0.8M0,-0.8V0.8","M-0.8,-0.8H0.8V0.8H-0.8Z"]},"legend":null}}},
  {"mark":{"type":"point","opacity":0,"size":64},"encoding":{
   "x":{"field":"x","type":"quantitative","scale":{"domain":[2,20],"nice":false,"zero":false},"axis":null},
   "color":{"field":"s","type":"nominal","scale":{"domain":["M-Tree","Slim-Tree","DBM-MM","DBM-MS","DBM-GMM"],"range":["#8b1a1a","#000000","#ff0000","#00e000","#0000ff"]},"legend":{"title":null,"orient":"bottom-right"}},
   "shape":{"field":"s","type":"nominal","scale":{"domain":["M-Tree","Slim-Tree","DBM-MM","DBM-MS","DBM-GMM"],"range":["M-2.6,0H2.6M-1,-0.75L1,-0.75L0,1Z","M-2.6,0H2.6M0,-1L1,0.75L-1,0.75ZM0,-0.45L0.6,0.5L-0.6,0.5ZM0,0.05L0.25,0.45L-0.25,0.45Z","M-2.6,0H2.6M0.6,0A0.6,0.6,0,1,1,-0.6,0A0.6,0.6,0,1,1,0.6,0","M-2.6,0H2.6M0,-0.8V0.8","M-2.6,0H2.6M-0.8,-0.8H0.8V0.8H-0.8Z"]},"legend":{"title":null,"orient":"bottom-right"}}}}
 ],
 "resolve":{"axis":{"x":"independent"},"scale":{"shape":"independent","color":"independent"}}
},
{"data":{"name":"k"},"width":253,"height":172,"title":{"text":"(k)","dx":48},
 "encoding":{
  "x":{"field":"x","type":"quantitative","scale":{"type":"log","domain":[0.0001,1]},"axis":{"values":[0.0001,0.001,0.01,0.1,1],"format":"~r","title":"radius","titleFontSize":16,"titleAlign":"right","titleX":250,"titleY":24,"titleBaseline":"alphabetic"}},
  "y":{"field":"v","type":"quantitative","scale":{"domain":[0.1,0.7],"nice":false,"zero":false},"axis":{"values":[0.1,0.2,0.3,0.4,0.5,0.6,0.7],"format":".1f","title":"Total Time (s)","titleFontSize":14,"titlePadding":5}}},
 "layer":[
  {"mark":{"type":"line","strokeWidth":1.6},"encoding":{"stroke":{"field":"s","type":"nominal","scale":{"domain":["M-Tree","Slim-Tree","DBM-MM","DBM-MS","DBM-GMM"],"range":["#8b1a1a","#000000","#ff0000","#00e000","#0000ff"]},"legend":null}}},
  {"mark":{"type":"point","opacity":1,"size":64,"strokeWidth":1.2},"encoding":{
   "x":{"field":"x","type":"quantitative","scale":{"type":"log","domain":[0.0001,1]},"axis":{"orient":"top","labels":false,"ticks":false,"title":"Rq: Synt16D","titleFontStyle":"italic","titleFontSize":20,"titleAlign":"left","titleX":81,"titleY":-5,"titleBaseline":"alphabetic"}},
   "stroke":{"field":"s","type":"nominal","scale":{"domain":["M-Tree","Slim-Tree","DBM-MM","DBM-MS","DBM-GMM"],"range":["#8b1a1a","#000000","#ff0000","#00e000","#0000ff"]},"legend":null},
   "fill":{"field":"s","type":"nominal","scale":{"domain":["M-Tree","Slim-Tree","DBM-MM","DBM-MS","DBM-GMM"],"range":["transparent","#000000","#ff0000","transparent","transparent"]},"legend":null},
   "shape":{"field":"s","type":"nominal","scale":{"domain":["M-Tree","Slim-Tree","DBM-MM","DBM-MS","DBM-GMM"],"range":["M-1,-0.75L1,-0.75L0,1Z","M0,-1L1,0.75L-1,0.75Z","M0.6,0A0.6,0.6,0,1,1,-0.6,0A0.6,0.6,0,1,1,0.6,0","M-0.8,0H0.8M0,-0.8V0.8","M-0.8,-0.8H0.8V0.8H-0.8Z"]},"legend":null}}},
  {"mark":{"type":"point","opacity":0,"size":64},"encoding":{
   "x":{"field":"x","type":"quantitative","scale":{"type":"log","domain":[0.0001,1]},"axis":null},
   "color":{"field":"s","type":"nominal","scale":{"domain":["M-Tree","Slim-Tree","DBM-MM","DBM-MS","DBM-GMM"],"range":["#8b1a1a","#000000","#ff0000","#00e000","#0000ff"]},"legend":{"title":null,"orient":"bottom-right"}},
   "shape":{"field":"s","type":"nominal","scale":{"domain":["M-Tree","Slim-Tree","DBM-MM","DBM-MS","DBM-GMM"],"range":["M-2.6,0H2.6M-1,-0.75L1,-0.75L0,1Z","M-2.6,0H2.6M0,-1L1,0.75L-1,0.75ZM0,-0.45L0.6,0.5L-0.6,0.5ZM0,0.05L0.25,0.45L-0.25,0.45Z","M-2.6,0H2.6M0.6,0A0.6,0.6,0,1,1,-0.6,0A0.6,0.6,0,1,1,0.6,0","M-2.6,0H2.6M0,-0.8V0.8","M-2.6,0H2.6M-0.8,-0.8H0.8V0.8H-0.8Z"]},"legend":{"title":null,"orient":"bottom-right"}}}}
 ],
 "resolve":{"axis":{"x":"independent"},"scale":{"shape":"independent","color":"independent"}}
},
{"data":{"name":"l"},"width":253,"height":172,"title":{"text":"(l)","dx":45},
 "encoding":{
  "x":{"field":"x","type":"quantitative","scale":{"domain":[2,20],"nice":false,"zero":false},"axis":{"values":[2,4,6,8,10,12,14,16,18,20],"format":"~r","title":"k","titleFontStyle":"italic","titleFontSize":16,"titleAlign":"right","titleX":233,"titleY":23,"titleBaseline":"alphabetic"}},
  "y":{"field":"v","type":"quantitative","scale":{"domain":[5,13],"nice":false,"zero":false},"axis":{"values":[5,6,7,8,9,10,11,12,13],"format":"~r","title":"Total Time (s)","titleFontSize":14,"titlePadding":5}}},
 "layer":[
  {"mark":{"type":"line","strokeWidth":1.6},"encoding":{"stroke":{"field":"s","type":"nominal","scale":{"domain":["M-Tree","Slim-Tree","DBM-MM","DBM-MS","DBM-GMM"],"range":["#8b1a1a","#000000","#ff0000","#00e000","#0000ff"]},"legend":null}}},
  {"mark":{"type":"point","opacity":1,"size":64,"strokeWidth":1.2},"encoding":{
   "x":{"field":"x","type":"quantitative","scale":{"domain":[2,20],"nice":false,"zero":false},"axis":{"orient":"top","labels":false,"ticks":false,"title":"kNNq: Synt256D","titleFontStyle":"italic","titleFontSize":20,"titleAlign":"left","titleX":70,"titleY":-5,"titleBaseline":"alphabetic"}},
   "stroke":{"field":"s","type":"nominal","scale":{"domain":["M-Tree","Slim-Tree","DBM-MM","DBM-MS","DBM-GMM"],"range":["#8b1a1a","#000000","#ff0000","#00e000","#0000ff"]},"legend":null},
   "fill":{"field":"s","type":"nominal","scale":{"domain":["M-Tree","Slim-Tree","DBM-MM","DBM-MS","DBM-GMM"],"range":["transparent","#000000","#ff0000","transparent","transparent"]},"legend":null},
   "shape":{"field":"s","type":"nominal","scale":{"domain":["M-Tree","Slim-Tree","DBM-MM","DBM-MS","DBM-GMM"],"range":["M-1,-0.75L1,-0.75L0,1Z","M0,-1L1,0.75L-1,0.75Z","M0.6,0A0.6,0.6,0,1,1,-0.6,0A0.6,0.6,0,1,1,0.6,0","M-0.8,0H0.8M0,-0.8V0.8","M-0.8,-0.8H0.8V0.8H-0.8Z"]},"legend":null}}},
  {"transform":[{"filter":{"field":"s","oneOf":["M-Tree","Slim-Tree","DBM-MM"]}}],
   "mark":{"type":"point","opacity":0,"size":64},"encoding":{
   "x":{"field":"x","type":"quantitative","scale":{"domain":[2,20],"nice":false,"zero":false},"axis":null},
   "color":{"field":"s","type":"nominal","scale":{"domain":["M-Tree","Slim-Tree","DBM-MM"],"range":["#8b1a1a","#000000","#ff0000"]},"legend":{"title":null,"orient":"none","legendX":65,"legendY":0}},
   "shape":{"field":"s","type":"nominal","scale":{"domain":["M-Tree","Slim-Tree","DBM-MM"],"range":["M-2.6,0H2.6M-1,-0.75L1,-0.75L0,1Z","M-2.6,0H2.6M0,-1L1,0.75L-1,0.75ZM0,-0.45L0.6,0.5L-0.6,0.5ZM0,0.05L0.25,0.45L-0.25,0.45Z","M-2.6,0H2.6M0.6,0A0.6,0.6,0,1,1,-0.6,0A0.6,0.6,0,1,1,0.6,0"]},"legend":{"title":null,"orient":"none","legendX":65,"legendY":0}}}},
  {"transform":[{"filter":{"field":"s","oneOf":["DBM-MS","DBM-GMM"]}}],
   "mark":{"type":"point","opacity":0,"size":64},"encoding":{
   "x":{"field":"x","type":"quantitative","scale":{"domain":[2,20],"nice":false,"zero":false},"axis":null},
   "color":{"field":"s","type":"nominal","scale":{"domain":["DBM-MS","DBM-GMM"],"range":["#00e000","#0000ff"]},"legend":{"title":null,"orient":"none","legendX":153,"legendY":0}},
   "shape":{"field":"s","type":"nominal","scale":{"domain":["DBM-MS","DBM-GMM"],"range":["M-2.6,0H2.6M0,-0.8V0.8","M-2.6,0H2.6M-0.8,-0.8H0.8V0.8H-0.8Z"]},"legend":{"title":null,"orient":"none","legendX":153,"legendY":0}}}}
 ],
 "resolve":{"axis":{"x":"independent"},"scale":{"shape":"independent","color":"independent"}}
}
]
}
